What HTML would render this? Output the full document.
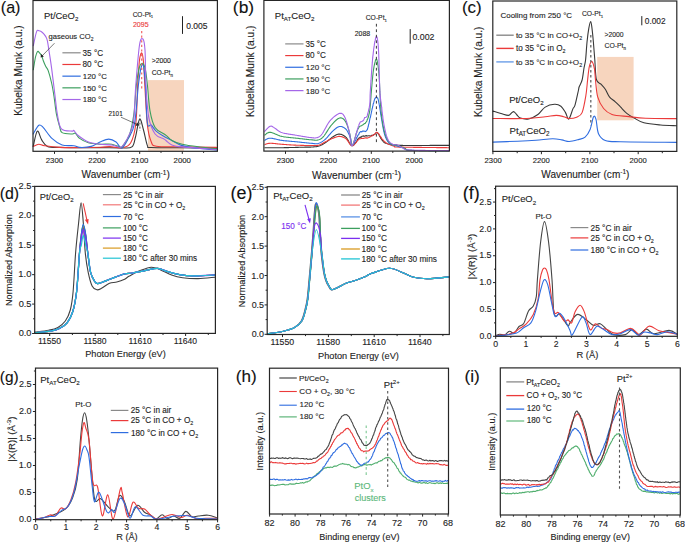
<!DOCTYPE html>
<html><head><meta charset="utf-8"><style>
html,body{margin:0;padding:0;background:#fff;}
svg{display:block;}
text{font-family:"Liberation Sans", sans-serif;}
</style></head><body>
<svg width="685" height="543" viewBox="0 0 685 543">
<rect width="685" height="543" fill="#fff"/>
<rect x="148" y="80.1" width="36" height="70.7" fill="#f7d5be" />
<path d="M33.2,146.4 C33.88,143.85 35.88,132.18 37.3,131.1 C38.72,130.02 40,137.35 41.7,139.9 C43.4,142.45 44.45,145.15 47.5,146.4 C50.55,147.65 54.58,147.2 60,147.4 C65.42,147.6 73.33,147.57 80,147.6 C86.67,147.63 93.07,147.55 100,147.6 C106.93,147.65 116.28,148.02 121.6,147.9 C126.92,147.78 129.58,148.72 131.9,146.9 C134.22,145.08 134.22,141.63 135.5,137 C136.78,132.37 138.27,120.27 139.6,119.1 C140.93,117.93 142.2,125.58 143.5,130 C144.8,134.42 146.12,142.68 147.4,145.6 C148.68,148.52 145.77,147.13 151.2,147.5 C156.63,147.87 169.12,147.68 180,147.8 C190.88,147.92 210.42,148.13 216.5,148.2" fill="none" stroke="#383838" stroke-width="1.1" stroke-linejoin="round" stroke-linecap="round" />
<path d="M33.2,146.4 C34.13,146.03 36.9,144.32 38.8,144.2 C40.7,144.08 41.2,145.17 44.6,145.7 C48,146.23 53.3,147.08 59.2,147.4 C65.1,147.72 73.2,147.63 80,147.6 C86.8,147.57 95,147.37 100,147.2 C105,147.03 106.4,146.48 110,146.6 C113.6,146.72 118.17,148.5 121.6,147.9 C125.03,147.3 128.23,147.03 130.6,143 C132.97,138.97 134.62,133.37 135.8,123.7 C136.98,114.03 137.08,95.62 137.7,85 C138.32,74.38 138.82,65.35 139.5,60 C140.18,54.65 141.13,52.57 141.8,52.9 C142.47,53.23 143,56.65 143.5,62 C144,67.35 144.15,74.5 144.8,85 C145.45,95.5 146.33,115.55 147.4,125 C148.47,134.45 149.7,138.17 151.2,141.7 C152.7,145.23 151.6,145.35 156.4,146.2 C161.2,147.05 169.98,146.6 180,146.8 C190.02,147 210.42,147.3 216.5,147.4" fill="none" stroke="#eb3a3a" stroke-width="1.1" stroke-linejoin="round" stroke-linecap="round" />
<path d="M33.2,134 C34.13,132.55 37.15,126.4 38.8,125.3 C40.45,124.2 40.92,125.22 43.1,127.4 C45.28,129.58 48.73,135.47 51.9,138.4 C55.07,141.33 58.45,143.78 62.1,145 C65.75,146.22 70.88,145.3 73.8,145.7 C76.72,146.1 76.68,147.28 79.6,147.4 C82.52,147.52 87.9,147.3 91.3,146.4 C94.7,145.5 97.08,143.22 100,142 C102.92,140.78 106.12,139.1 108.8,139.1 C111.48,139.1 113.97,140.5 116.1,142 C118.23,143.5 119.62,148.58 121.6,148.1 C123.58,147.62 125.85,143.17 128,139.1 C130.15,135.03 132.77,132.72 134.5,123.7 C136.23,114.68 137.32,94.28 138.4,85 C139.48,75.72 140.17,71.23 141,68 C141.83,64.77 142.67,62.77 143.4,65.6 C144.13,68.43 144.73,75.43 145.4,85 C146.07,94.57 146.43,116.33 147.4,123 C148.37,129.67 149.7,123.6 151.2,125 C152.7,126.4 154.25,129.48 156.4,131.4 C158.55,133.32 161.73,135.1 164.1,136.5 C166.47,137.9 167.58,138.28 170.6,139.8 C173.62,141.32 177.3,144.15 182.2,145.6 C187.1,147.05 194.28,147.77 200,148.5 C205.72,149.23 213.75,149.75 216.5,150" fill="none" stroke="#2f6de0" stroke-width="1.1" stroke-linejoin="round" stroke-linecap="round" />
<path d="M33.3,69.8 C33.67,67.67 34.8,60.05 35.5,57 C36.2,53.95 36.9,52.27 37.5,51.5 C38.1,50.73 38.42,51.7 39.1,52.4 C39.78,53.1 40.9,54.32 41.6,55.7 C42.3,57.08 42.6,58.9 43.3,60.7 C44,62.5 44.98,64.85 45.8,66.5 C46.62,68.15 47.23,67.85 48.2,70.6 C49.17,73.35 50.63,78.72 51.6,83 C52.57,87.28 53.18,91.05 54,96.3 C54.82,101.55 55.58,109.55 56.5,114.5 C57.42,119.45 58.57,122.98 59.5,126 C60.43,129.02 59.97,131.27 62.1,132.6 C64.23,133.93 70.1,133.88 72.3,134 C74.5,134.12 74.08,132.57 75.3,133.3 C76.52,134.03 77.42,136.82 79.6,138.4 C81.78,139.98 85,141.83 88.4,142.8 C91.8,143.77 96.1,143.97 100,144.2 C103.9,144.43 108.38,143.7 111.8,144.2 C115.22,144.7 118.65,146.97 120.5,147.2 C122.35,147.43 121.43,147.58 122.9,145.6 C124.37,143.62 127.48,140.47 129.3,135.3 C131.12,130.13 132.62,122.98 133.8,114.6 C134.98,106.22 135.45,92.93 136.4,85 C137.35,77.07 138.42,70.6 139.5,67 C140.58,63.4 141.9,62.9 142.9,63.4 C143.9,63.9 144.75,66.4 145.5,70 C146.25,73.6 146.65,78.2 147.4,85 C148.15,91.8 148.72,103.72 150,110.8 C151.28,117.88 152.75,123.63 155.1,127.5 C157.45,131.37 162.17,132.6 164.1,134 C166.03,135.4 165.4,134.83 166.7,135.9 C168,136.97 169.32,139 171.9,140.4 C174.48,141.8 177.52,143.2 182.2,144.3 C186.88,145.4 194.28,146.28 200,147 C205.72,147.72 213.75,148.33 216.5,148.6" fill="none" stroke="#3c9f5e" stroke-width="1.1" stroke-linejoin="round" stroke-linecap="round" />
<path d="M33.3,45.7 C33.85,43.35 35.63,34.08 36.6,31.6 C37.57,29.12 38.13,30.65 39.1,30.8 C40.07,30.95 41.28,31.53 42.4,32.5 C43.52,33.47 44.97,35.22 45.8,36.6 C46.63,37.98 46.85,38.32 47.4,40.8 C47.95,43.28 48.4,46.95 49.1,51.5 C49.8,56.05 50.63,60.9 51.6,68.1 C52.57,75.3 53.93,86.97 54.9,94.7 C55.87,102.43 56.32,108.8 57.4,114.5 C58.48,120.2 58.92,126.13 61.4,128.9 C63.88,131.67 70.23,130.85 72.3,131.1 C74.37,131.35 72.82,129.67 73.8,130.4 C74.78,131.13 75.77,133.57 78.2,135.5 C80.63,137.43 84.77,140.55 88.4,142 C92.03,143.45 96.1,143.7 100,144.2 C103.9,144.7 108.38,144.5 111.8,145 C115.22,145.5 118.22,147.75 120.5,147.2 C122.78,146.65 123.38,145.62 125.5,141.7 C127.62,137.78 131.48,133.15 133.2,123.7 C134.92,114.25 134.75,98.12 135.8,85 C136.85,71.88 138.32,52.67 139.5,45 C140.68,37.33 141.98,38.17 142.9,39 C143.82,39.83 144.48,42.33 145,50 C145.52,57.67 145.38,73.8 146,85 C146.62,96.2 147.18,109.03 148.7,117.2 C150.22,125.37 152.53,130.35 155.1,134 C157.67,137.65 162.07,137.82 164.1,139.1 C166.13,140.38 166,140.73 167.3,141.7 C168.6,142.67 169.42,144.03 171.9,144.9 C174.38,145.77 174.77,146.12 182.2,146.9 C189.63,147.68 210.78,149.15 216.5,149.6" fill="none" stroke="#a567e8" stroke-width="1.1" stroke-linejoin="round" stroke-linecap="round" />
<line x1="141.7" y1="31" x2="141.7" y2="89" stroke="#f26464" stroke-width="1.2" stroke-dasharray="2.2,2.4"/>
<line x1="139.9" y1="114.6" x2="139.9" y2="131" stroke="#444" stroke-width="0.9" stroke-dasharray="2,2"/>
<rect x="33" y="0.5" width="184.4" height="150.8" fill="none" stroke="#262626" stroke-width="1.2"/>
<line x1="54.5" y1="151.3" x2="54.5" y2="153.9" stroke="#262626" stroke-width="1" />
<line x1="97.1" y1="151.3" x2="97.1" y2="153.9" stroke="#262626" stroke-width="1" />
<line x1="139.7" y1="151.3" x2="139.7" y2="153.9" stroke="#262626" stroke-width="1" />
<line x1="182.3" y1="151.3" x2="182.3" y2="153.9" stroke="#262626" stroke-width="1" />
<line x1="75.8" y1="151.3" x2="75.8" y2="152.9" stroke="#262626" stroke-width="1" />
<line x1="118.4" y1="151.3" x2="118.4" y2="152.9" stroke="#262626" stroke-width="1" />
<line x1="161" y1="151.3" x2="161" y2="152.9" stroke="#262626" stroke-width="1" />
<line x1="203.6" y1="151.3" x2="203.6" y2="152.9" stroke="#262626" stroke-width="1" />
<text x="45.76" y="162.8" font-size="7.8" fill="#1e1e1e" stroke="#1e1e1e" stroke-width="0.12" ><tspan>2300</tspan></text>
<text x="88.36" y="162.8" font-size="7.8" fill="#1e1e1e" stroke="#1e1e1e" stroke-width="0.12" ><tspan>2200</tspan></text>
<text x="130.96" y="162.8" font-size="7.8" fill="#1e1e1e" stroke="#1e1e1e" stroke-width="0.12" ><tspan>2100</tspan></text>
<text x="173.56" y="162.8" font-size="7.8" fill="#1e1e1e" stroke="#1e1e1e" stroke-width="0.12" ><tspan>2000</tspan></text>
<text x="81.55" y="178.4" font-size="10.07" fill="#1e1e1e" stroke="#1e1e1e" stroke-width="0.12" ><tspan>Wavenumber (cm</tspan><tspan font-size="6.55" dy="-3.83">-1</tspan><tspan dy="3.83">)</tspan></text>
<text x="0" y="0" font-size="10.11" fill="#1e1e1e" stroke="#1e1e1e" stroke-width="0.12" transform="translate(22.3 115) rotate(-90)"><tspan x="-0.81"><tspan>Kubelka Munk (a.u.)</tspan></tspan></text>
<text x="0.78" y="12.5" font-size="16.14" fill="#111" stroke="#111" stroke-width="0.12" ><tspan>(a)</tspan></text>
<text x="44.05" y="18.9" font-size="9.43" fill="#1e1e1e" stroke="#1e1e1e" stroke-width="0.12" ><tspan>Pt/CeO</tspan><tspan font-size="6.13" dy="2.36">2</tspan></text>
<text x="48.5" y="39.1" font-size="7.59" fill="#1e1e1e" stroke="#1e1e1e" stroke-width="0.12" ><tspan>gaseous CO</tspan><tspan font-size="4.93" dy="1.9">2</tspan></text>
<line x1="54.5" y1="43.2" x2="41.8" y2="56.2" stroke="#222" stroke-width="0.6" />
<path d="M40.6,57.6 L41.1,53.9 L43.9,56.4 Z" fill="#222"/>
<line x1="62.4" y1="52.8" x2="80.7" y2="52.8" stroke="#8a8a8a" stroke-width="1.2" />
<line x1="62.4" y1="64.48" x2="80.7" y2="64.48" stroke="#eb3a3a" stroke-width="1.2" />
<line x1="62.4" y1="76.16" x2="80.7" y2="76.16" stroke="#2f6de0" stroke-width="1.2" />
<line x1="62.4" y1="87.84" x2="80.7" y2="87.84" stroke="#3c9f5e" stroke-width="1.2" />
<line x1="62.4" y1="99.52" x2="80.7" y2="99.52" stroke="#a567e8" stroke-width="1.2" />
<text x="82.57" y="55.6" font-size="8.17" fill="#1e1e1e" stroke="#1e1e1e" stroke-width="0.12" ><tspan>35 °C</tspan></text>
<text x="82.53" y="67.28" font-size="8.19" fill="#1e1e1e" stroke="#1e1e1e" stroke-width="0.12" ><tspan>80 °C</tspan></text>
<text x="82.81" y="78.96" font-size="7.85" fill="#1e1e1e" stroke="#1e1e1e" stroke-width="0.12" ><tspan>120 °C</tspan></text>
<text x="82.81" y="90.64" font-size="7.85" fill="#1e1e1e" stroke="#1e1e1e" stroke-width="0.12" ><tspan>150 °C</tspan></text>
<text x="82.81" y="102.32" font-size="7.85" fill="#1e1e1e" stroke="#1e1e1e" stroke-width="0.12" ><tspan>180 °C</tspan></text>
<text x="132.67" y="16.5" font-size="6.54" fill="#1e1e1e" stroke="#1e1e1e" stroke-width="0.12" ><tspan>CO-Pt</tspan><tspan font-size="4.25" dy="1.63">1</tspan></text>
<text x="132.95" y="27" font-size="7.07" fill="#eb3a3a" stroke="#eb3a3a" stroke-width="0.12" ><tspan>2095</tspan></text>
<line x1="182.5" y1="16.2" x2="182.5" y2="33.9" stroke="#222" stroke-width="1" />
<text x="186.16" y="28.6" font-size="8.51" fill="#1e1e1e" stroke="#1e1e1e" stroke-width="0.12" ><tspan>0.005</tspan></text>
<text x="151.66" y="63.3" font-size="6.86" fill="#1e1e1e" stroke="#1e1e1e" stroke-width="0.12" ><tspan>&gt;2000</tspan></text>
<text x="151.66" y="74.9" font-size="6.79" fill="#1e1e1e" stroke="#1e1e1e" stroke-width="0.12" ><tspan>CO-Pt</tspan><tspan font-size="4.41" dy="1.7">n</tspan></text>
<text x="108.58" y="116.2" font-size="6.34" fill="#1e1e1e" stroke="#1e1e1e" stroke-width="0.12" ><tspan>2101</tspan></text>
<line x1="121" y1="117.2" x2="137.3" y2="124.5" stroke="#222" stroke-width="0.6" />
<path d="M139.6,125.6 L135.8,125.7 L137.1,122.5 Z" fill="#222"/>
<path d="M264.5,147.7 L264.95,147.7 L265.46,147.7 L266.03,147.7 L266.66,147.71 L267.34,147.71 L268.07,147.71 L268.84,147.72 L269.66,147.72 L270.5,147.73 L271.38,147.73 L272.29,147.73 L273.21,147.73 L274.16,147.74 L275.12,147.74 L276.09,147.74 L277.07,147.73 L278.05,147.73 L279.03,147.73 L280,147.72 L280.96,147.71 L281.9,147.7 L282.64,147.69 L283.41,147.68 L284.21,147.66 L285.03,147.65 L285.87,147.63 L286.73,147.62 L287.6,147.6 L288.48,147.58 L289.37,147.56 L290.27,147.54 L291.17,147.52 L292.08,147.5 L292.98,147.47 L293.87,147.45 L294.76,147.43 L295.64,147.41 L296.5,147.38 L297.35,147.36 L298.18,147.34 L298.98,147.32 L299.77,147.3 L300.52,147.28 L301.25,147.26 L301.94,147.25 L302.6,147.23 L303.22,147.21 L303.8,147.2 L305.18,147.17 L306.34,147.15 L307.3,147.14 L308.12,147.14 L308.83,147.13 L309.46,147.12 L310.06,147.11 L310.66,147.09 L311.29,147.05 L312,147 L312.93,146.93 L313.83,146.87 L314.71,146.8 L315.57,146.72 L316.43,146.61 L317.28,146.46 L318.13,146.26 L319,146 L319.78,145.72 L320.56,145.4 L321.33,145.04 L322.11,144.64 L322.89,144.22 L323.67,143.77 L324.44,143.3 L325.22,142.81 L326,142.3 L326.64,141.85 L327.28,141.36 L327.92,140.83 L328.56,140.28 L329.2,139.71 L329.85,139.15 L330.48,138.6 L331.12,138.06 L331.75,137.56 L332.38,137.1 L333,136.7 L333.84,136.19 L334.68,135.7 L335.51,135.25 L336.33,134.84 L337.15,134.51 L337.97,134.26 L338.78,134.12 L339.6,134.1 L340.33,134.18 L341.06,134.34 L341.79,134.58 L342.52,134.89 L343.24,135.27 L343.97,135.72 L344.68,136.22 L345.4,136.79 L346.1,137.4 L346.62,137.96 L347.13,138.67 L347.63,139.48 L348.13,140.36 L348.62,141.27 L349.11,142.19 L349.61,143.06 L350.11,143.86 L350.61,144.55 L351.13,145.1 L351.66,145.46 L352.2,145.6 L352.72,145.51 L353.24,145.23 L353.78,144.79 L354.33,144.29 L354.89,143.26 L355.44,143.2 L356.01,142.37 L356.57,141.14 L357.13,140.52 L357.68,139.36 L358.23,138.68 L358.77,138.16 L359.3,138.07 L360.15,137.1 L361,137.38 L361.84,136.26 L362.68,136.14 L363.49,135.88 L364.29,136.37 L365.06,135.9 L365.8,135.87 L366.74,135.65 L367.65,135.95 L368.51,135.81 L369.34,135.7 L370.14,135.92 L370.9,135.72 L371.78,135.28 L372.61,135.54 L373.39,134.97 L374.12,134.52 L374.8,134.34 L375.71,133.14 L376.49,132.43 L377.4,132.63 L377.78,133 L378.18,133.8 L378.61,133.91 L379.05,135.12 L379.5,136.04 L379.96,136.73 L380.42,137.27 L380.86,138.64 L381.3,138.66 L381.91,139.98 L382.47,140.36 L383.04,141.35 L383.64,141.96 L384.31,142.51 L385.1,143 L385.79,143.32 L386.57,143.59 L387.41,143.83 L388.28,144.03 L389.15,144.2 L390.02,144.35 L390.84,144.48 L391.6,144.6 L392.56,144.72 L393.5,144.79 L394.41,144.82 L395.24,144.83 L395.98,144.85 L396.6,144.9 L394.54,145.17 L398.2,145.4 L398.63,145.4 L399.11,145.41 L399.61,145.41 L400.15,145.41 L400.72,145.42 L401.33,145.42 L401.96,145.42 L402.63,145.42 L403.32,145.43 L404.04,145.43 L404.78,145.43 L405.55,145.43 L406.34,145.43 L407.16,145.43 L407.99,145.43 L408.85,145.44 L409.72,145.44 L410.61,145.44 L411.52,145.44 L412.44,145.44 L413.37,145.44 L414.32,145.44 L415.28,145.44 L416.24,145.44 L417.22,145.44 L418.2,145.44 L419.19,145.43 L420.19,145.43 L421.19,145.43 L422.19,145.43 L423.2,145.43 L424.2,145.43 L425.21,145.43 L426.21,145.43 L427.21,145.43 L428.2,145.43 L429.19,145.43 L430.17,145.42 L431.15,145.42 L432.11,145.42 L433.06,145.42 L434.01,145.42 L434.94,145.42 L435.85,145.42 L436.75,145.41 L437.64,145.41 L438.5,145.41 L439.35,145.41 L440.18,145.41 L440.99,145.41 L441.77,145.41 L442.53,145.41 L443.27,145.41 L443.98,145.4 L444.66,145.4 L445.32,145.4 L445.94,145.4 L446.53,145.4 L447.1,145.4 L447.62,145.4 L448.12,145.4 L448.58,145.4 L449,145.4" fill="none" stroke="#383838" stroke-width="1.1" stroke-linejoin="round" />
<path d="M264.5,144.7 L264.96,144.55 L265.54,144.33 L266.23,144.07 L267.04,143.81 L267.97,143.57 L269.02,143.39 L270.2,143.3 L270.84,143.3 L271.53,143.32 L272.26,143.36 L273.02,143.41 L273.82,143.48 L274.64,143.57 L275.49,143.66 L276.37,143.75 L277.26,143.85 L278.17,143.95 L279.09,144.05 L280.02,144.14 L280.96,144.23 L281.9,144.3 L282.64,144.35 L283.39,144.41 L284.16,144.46 L284.93,144.52 L285.72,144.57 L286.52,144.63 L287.33,144.68 L288.14,144.74 L288.96,144.79 L289.79,144.85 L290.62,144.9 L291.46,144.95 L292.3,145 L293.14,145.04 L293.98,145.09 L294.82,145.13 L295.66,145.17 L296.5,145.2 L297.31,145.23 L298.14,145.26 L298.99,145.29 L299.85,145.32 L300.73,145.34 L301.62,145.37 L302.51,145.39 L303.4,145.41 L304.28,145.43 L305.16,145.45 L306.03,145.46 L306.88,145.47 L307.7,145.48 L308.51,145.49 L309.28,145.5 L310.02,145.5 L310.72,145.51 L311.38,145.5 L312,145.5 L313.28,145.5 L314.35,145.5 L315.25,145.5 L316.03,145.49 L316.75,145.44 L317.45,145.35 L318.18,145.21 L319,145 L319.78,144.74 L320.56,144.42 L321.33,144.05 L322.11,143.64 L322.89,143.21 L323.67,142.76 L324.44,142.32 L325.22,141.9 L326,141.5 L326.78,141.12 L327.56,140.72 L328.35,140.33 L329.13,139.94 L329.92,139.55 L330.7,139.18 L331.47,138.83 L332.24,138.5 L333,138.2 L333.84,137.87 L334.68,137.54 L335.51,137.23 L336.33,136.94 L337.15,136.69 L337.97,136.51 L338.78,136.41 L339.6,136.4 L340.42,136.48 L341.24,136.62 L342.06,136.83 L342.88,137.11 L343.7,137.45 L344.51,137.86 L345.31,138.35 L346.1,138.9 L346.67,139.41 L347.22,140.07 L347.77,140.83 L348.31,141.66 L348.84,142.51 L349.38,143.34 L349.93,144.11 L350.48,144.78 L351.04,145.31 L351.61,145.67 L352.2,145.8 L352.75,145.7 L353.32,145.41 L353.89,144.95 L354.47,144.05 L355.06,143.8 L355.65,142.66 L356.25,142.38 L356.85,141.53 L357.46,140.6 L358.07,140.16 L358.68,139.57 L359.3,138.69 L360.14,138.76 L361.02,138.59 L361.91,138.34 L362.82,138.57 L363.72,138.4 L364.6,138.04 L365.45,137.87 L366.25,137.7 L367,138.18 L368.01,137.8 L368.92,137.44 L369.76,136.97 L370.56,136.69 L371.36,136.06 L372.2,135.93 L372.95,135.11 L373.72,134.94 L374.5,134.29 L375.26,133.7 L376.01,132.81 L376.73,132.36 L377.4,132.55 L377.94,133.12 L378.44,133.42 L378.9,134.26 L379.36,134.72 L379.81,135.5 L380.27,136.78 L380.76,136.9 L381.3,137.64 L381.8,138.56 L382.3,139.19 L382.81,139.62 L383.34,140.28 L383.89,140.87 L384.46,141.44 L385.07,142 L385.71,142.52 L386.4,143 L387.07,143.41 L387.8,143.8 L388.58,144.17 L389.38,144.53 L390.2,144.86 L391.02,145.18 L391.84,145.47 L392.63,145.74 L393.39,145.98 L394.1,146.2 L394.66,146.45 L394.66,146.63 L394.49,146.76 L394.55,146.86 L395.23,146.93 L396.91,147.01 L400,147.1 L400.47,147.11 L400.97,147.12 L401.51,147.14 L402.08,147.15 L402.68,147.16 L403.31,147.17 L403.97,147.19 L404.66,147.2 L405.37,147.21 L406.11,147.22 L406.88,147.23 L407.67,147.25 L408.47,147.26 L409.3,147.27 L410.15,147.28 L411.02,147.29 L411.9,147.31 L412.8,147.32 L413.72,147.33 L414.64,147.34 L415.58,147.35 L416.53,147.36 L417.49,147.37 L418.46,147.39 L419.43,147.4 L420.42,147.41 L421.4,147.42 L422.39,147.43 L423.38,147.44 L424.37,147.45 L425.36,147.46 L426.36,147.47 L427.34,147.48 L428.33,147.49 L429.31,147.5 L430.28,147.51 L431.24,147.52 L432.2,147.53 L433.15,147.54 L434.08,147.55 L435.01,147.56 L435.92,147.57 L436.81,147.58 L437.69,147.58 L438.55,147.59 L439.39,147.6 L440.22,147.61 L441.02,147.62 L441.8,147.62 L442.56,147.63 L443.29,147.64 L444,147.65 L444.68,147.65 L445.33,147.66 L445.95,147.67 L446.54,147.67 L447.1,147.68 L447.63,147.68 L448.12,147.69 L448.58,147.69 L449,147.7" fill="none" stroke="#eb3a3a" stroke-width="1.1" stroke-linejoin="round" />
<path d="M264.5,140.4 L264.96,140.16 L265.54,139.8 L266.23,139.38 L267.04,138.95 L267.97,138.57 L269.02,138.3 L270.2,138.2 L270.84,138.22 L271.53,138.29 L272.26,138.39 L273.02,138.53 L273.82,138.69 L274.64,138.88 L275.49,139.07 L276.37,139.28 L277.26,139.49 L278.17,139.7 L279.09,139.9 L280.02,140.09 L280.96,140.26 L281.9,140.4 L282.64,140.5 L283.4,140.59 L284.17,140.68 L284.95,140.76 L285.75,140.84 L286.56,140.92 L287.37,141 L288.2,141.07 L289.02,141.14 L289.86,141.21 L290.7,141.29 L291.53,141.36 L292.37,141.43 L293.21,141.5 L294.04,141.57 L294.87,141.64 L295.69,141.72 L296.5,141.8 L297.32,141.88 L298.16,141.97 L299.01,142.06 L299.87,142.15 L300.74,142.25 L301.62,142.34 L302.49,142.44 L303.36,142.53 L304.23,142.62 L305.08,142.72 L305.91,142.81 L306.73,142.89 L307.52,142.97 L308.28,143.05 L309.02,143.12 L309.72,143.19 L310.38,143.25 L311,143.3 L312.23,143.42 L313.28,143.54 L314.17,143.65 L314.97,143.74 L315.7,143.79 L316.43,143.78 L317.18,143.68 L318,143.5 L318.7,143.29 L319.38,143.04 L320.07,142.75 L320.75,142.42 L321.44,142.05 L322.13,141.63 L322.83,141.17 L323.54,140.66 L324.26,140.11 L325,139.5 L325.54,139.02 L326.1,138.48 L326.67,137.89 L327.25,137.26 L327.84,136.6 L328.43,135.92 L329.03,135.23 L329.62,134.53 L330.21,133.85 L330.79,133.19 L331.36,132.55 L331.92,131.95 L332.47,131.4 L333,130.9 L333.8,130.19 L334.56,129.5 L335.31,128.85 L336.03,128.26 L336.75,127.72 L337.46,127.27 L338.17,126.91 L338.88,126.65 L339.6,126.5 L340.43,126.47 L341.28,126.57 L342.14,126.79 L342.99,127.12 L343.82,127.56 L344.63,128.09 L345.39,128.71 L346.1,129.4 L346.55,129.93 L346.99,130.54 L347.41,131.22 L347.82,131.95 L348.22,132.72 L348.6,133.52 L348.96,134.33 L349.31,135.15 L349.64,135.96 L349.95,136.75 L350.23,137.5 L350.5,138.2 L350.78,139.19 L350.96,140.32 L351.07,141.5 L351.14,142.67 L351.22,143.74 L351.33,144.64 L351.51,145.31 L351.79,145.65 L352.2,145.6 L352.48,145.37 L352.81,144.99 L353.17,144.47 L353.57,143.84 L353.99,143.11 L354.44,142.73 L354.9,141.38 L355.37,140.7 L355.85,139.77 L356.34,138.35 L356.81,137.29 L357.28,136.85 L357.74,135.56 L358.17,134.99 L358.58,134.74 L358.96,134.12 L359.3,132.96 L360.29,131.87 L361.1,131.51 L361.8,131.91 L362.48,131.15 L363.2,131.15 L363.96,130.98 L364.72,131.18 L365.48,131.63 L366.24,130.97 L367,130.02 L367.2,129.83 L367.41,129.26 L367.62,128.36 L367.82,128 L368.03,127.07 L368.24,126.5 L368.46,125.15 L368.67,124.39 L368.88,123.68 L369.09,123.09 L369.3,121.86 L369.5,120.79 L369.71,119.65 L369.91,118.74 L370.12,117.76 L370.32,117.56 L370.51,116.59 L370.71,115.76 L370.9,114.63 L371.1,113.95 L371.3,112.73 L371.49,112.03 L371.69,110.85 L371.88,110.21 L372.07,109.17 L372.26,108.16 L372.45,108.02 L372.64,106.42 L372.82,106.23 L373,105.31 L373.18,103.98 L373.36,103.58 L373.53,103.33 L373.7,102.65 L373.87,101.64 L374.04,101.26 L374.2,100.69 L374.76,98.83 L375.28,98.07 L375.77,97.52 L376.24,97.09 L376.7,97.49 L377.06,97.33 L377.38,97.97 L377.69,97.94 L378.01,99.12 L378.34,99.91 L378.7,101.93 L378.82,102.69 L378.95,103 L379.07,103.67 L379.2,104.42 L379.33,104.8 L379.46,105.71 L379.59,106.69 L379.72,107.58 L379.86,108.2 L379.99,109.16 L380.13,109.91 L380.27,111.01 L380.41,112.02 L380.56,112.62 L380.7,113.84 L380.85,114.89 L381,115.5 L381.15,116.77 L381.3,117.03 L381.44,118.36 L381.58,118.49 L381.71,119.47 L381.85,120.71 L381.99,120.85 L382.13,122.23 L382.27,123.32 L382.42,124.25 L382.56,124.88 L382.71,125.43 L382.86,126.28 L383.01,127.27 L383.16,128.11 L383.31,128.93 L383.47,129.73 L383.64,130.51 L383.8,131.27 L383.97,132 L384.14,132.7 L384.32,133.37 L384.5,134 L384.82,135.04 L385.15,136.03 L385.49,136.95 L385.83,137.81 L386.19,138.63 L386.55,139.39 L386.92,140.1 L387.31,140.76 L387.71,141.38 L388.12,141.96 L388.55,142.5 L389,143 L389.69,143.63 L390.4,144.1 L391.14,144.44 L391.91,144.7 L392.72,144.91 L393.57,145.1 L394.46,145.32 L395.4,145.6 L396.14,145.84 L396.93,146.08 L397.76,146.32 L398.62,146.57 L399.5,146.81 L400.39,147.05 L401.27,147.29 L402.13,147.53 L402.97,147.76 L403.76,147.98 L404.5,148.2 L405.22,148.5 L405.57,148.8 L405.74,149.1 L405.94,149.39 L406.37,149.67 L407.22,149.91 L408.7,150.13 L411,150.3 L411.5,150.32 L412.04,150.35 L412.62,150.37 L413.24,150.39 L413.9,150.41 L414.59,150.43 L415.32,150.44 L416.08,150.46 L416.87,150.47 L417.69,150.49 L418.53,150.5 L419.39,150.51 L420.28,150.52 L421.19,150.53 L422.12,150.54 L423.06,150.55 L424.01,150.55 L424.98,150.56 L425.95,150.57 L426.93,150.57 L427.92,150.57 L428.92,150.58 L429.91,150.58 L430.9,150.58 L431.89,150.58 L432.88,150.59 L433.86,150.59 L434.83,150.59 L435.79,150.59 L436.74,150.59 L437.67,150.59 L438.59,150.59 L439.49,150.59 L440.37,150.59 L441.22,150.59 L442.05,150.59 L442.86,150.59 L443.63,150.59 L444.38,150.59 L445.09,150.59 L445.77,150.59 L446.41,150.59 L447.02,150.59 L447.58,150.59 L448.1,150.59 L448.57,150.6 L449,150.6" fill="none" stroke="#2f6de0" stroke-width="1.1" stroke-linejoin="round" />
<path d="M264.5,135.3 L264.9,135.02 L265.38,134.59 L265.96,134.08 L266.62,133.54 L267.37,133.04 L268.22,132.62 L269.16,132.36 L270.2,132.3 L270.8,132.37 L271.44,132.51 L272.11,132.7 L272.81,132.94 L273.55,133.23 L274.31,133.54 L275.09,133.88 L275.9,134.23 L276.72,134.58 L277.56,134.94 L278.42,135.29 L279.28,135.61 L280.15,135.91 L281.02,136.18 L281.9,136.4 L282.64,136.56 L283.4,136.7 L284.17,136.84 L284.95,136.96 L285.75,137.07 L286.56,137.18 L287.37,137.28 L288.2,137.37 L289.02,137.46 L289.86,137.54 L290.7,137.62 L291.53,137.7 L292.37,137.78 L293.21,137.86 L294.04,137.94 L294.87,138.02 L295.69,138.11 L296.5,138.2 L297.32,138.3 L298.16,138.39 L299.01,138.49 L299.87,138.6 L300.74,138.7 L301.62,138.8 L302.49,138.9 L303.36,139 L304.23,139.1 L305.08,139.2 L305.91,139.29 L306.73,139.38 L307.52,139.46 L308.28,139.54 L309.02,139.62 L309.72,139.68 L310.38,139.75 L311,139.8 L312.24,139.92 L313.31,140.04 L314.24,140.14 L315.06,140.22 L315.81,140.26 L316.53,140.24 L317.25,140.16 L318,140 L318.74,139.79 L319.42,139.57 L320.06,139.31 L320.69,138.98 L321.32,138.56 L321.98,138.02 L322.7,137.35 L323.5,136.5 L323.91,136.02 L324.33,135.49 L324.76,134.89 L325.21,134.25 L325.67,133.57 L326.13,132.85 L326.61,132.11 L327.09,131.35 L327.58,130.58 L328.07,129.81 L328.57,129.05 L329.06,128.3 L329.56,127.57 L330.05,126.86 L330.54,126.2 L331.02,125.57 L331.5,125 L332.13,124.29 L332.76,123.57 L333.41,122.86 L334.06,122.17 L334.71,121.51 L335.36,120.87 L336.01,120.28 L336.65,119.73 L337.27,119.24 L337.89,118.81 L338.48,118.46 L339.05,118.19 L339.6,118 L340.44,117.87 L341.24,117.91 L342,118.12 L342.73,118.49 L343.43,119.01 L344.1,119.67 L344.76,120.47 L345.4,121.4 L345.72,121.93 L346.03,122.52 L346.34,123.18 L346.65,123.88 L346.95,124.63 L347.24,125.42 L347.53,126.24 L347.81,127.08 L348.09,127.94 L348.36,128.81 L348.62,129.67 L348.87,130.54 L349.12,131.39 L349.36,132.22 L349.58,133.03 L349.8,133.8 L350.02,134.72 L350.22,135.76 L350.39,136.87 L350.53,138.02 L350.67,139.19 L350.79,140.35 L350.91,141.47 L351.04,142.51 L351.17,143.45 L351.32,144.25 L351.5,144.88 L351.7,145.33 L351.93,145.54 L352.2,145.5 L352.39,145.32 L352.6,145 L352.83,144.56 L353.06,144.02 L353.31,143.37 L353.57,142.64 L353.84,141.84 L354.11,141.39 L354.39,140.39 L354.67,139.31 L354.96,137.87 L355.25,136.97 L355.54,136.31 L355.84,135.39 L356.13,133.7 L356.41,132.89 L356.7,132.64 L356.97,131.09 L357.24,130.79 L357.51,129.79 L357.76,129.45 L358,129.13 L358.73,127.65 L359.43,126.66 L360.1,126.08 L360.75,126.03 L361.38,125.79 L362,125.32 L362.6,124.97 L363.29,124.54 L363.94,123.93 L364.58,123.51 L365.2,123.41 L365.8,122.32 L366.4,121.79 L366.65,121.45 L366.91,120.93 L367.17,119.83 L367.42,119.36 L367.68,119.17 L367.93,117.96 L368.17,117.8 L368.42,116.31 L368.65,116.06 L368.88,114.47 L369.1,114.1 L369.31,113.23 L369.51,111.95 L369.7,110.92 L369.8,110.54 L369.89,109.95 L369.97,108.53 L370.06,108.12 L370.14,106.95 L370.21,106.49 L370.29,105.5 L370.36,104.71 L370.43,104.31 L370.49,102.99 L370.56,102.21 L370.62,101.22 L370.68,101.08 L370.74,99.7 L370.8,98.67 L370.86,98.29 L370.92,97.5 L370.98,96.54 L371.04,95.59 L371.1,94.71 L371.16,94.02 L371.23,92.8 L371.29,92.44 L371.36,91.48 L371.43,90.82 L371.5,90.05 L371.58,89.15 L371.66,88 L371.73,87.13 L371.81,86.44 L371.89,85.42 L371.96,84.04 L372.04,83.96 L372.11,82.43 L372.19,81.8 L372.27,80.89 L372.35,79.7 L372.43,79.27 L372.5,78.43 L372.59,77.78 L372.67,76.77 L372.75,75.67 L372.84,75.1 L372.93,74.67 L373.01,73.62 L373.11,73.06 L373.2,71.58 L373.3,71.49 L373.4,70.39 L373.5,69.7 L373.7,68.66 L373.91,67.3 L374.13,66 L374.37,64.92 L374.6,63.78 L374.85,62.72 L375.09,62.22 L375.34,60.71 L375.58,60.08 L375.82,59.38 L376.06,59.41 L376.28,58.99 L376.5,59.33 L376.64,59.25 L376.79,59.49 L376.93,60.13 L377.07,60.23 L377.22,61.51 L377.36,61.85 L377.5,62.41 L377.63,63.33 L377.77,64.53 L377.9,65.02 L378.04,65.89 L378.17,66.73 L378.29,67.93 L378.42,69.38 L378.54,70.36 L378.66,71.21 L378.78,72.95 L378.89,73.46 L379,74.87 L379.05,75.87 L379.1,76.65 L379.15,76.91 L379.2,77.2 L379.25,78.42 L379.29,79.04 L379.34,79.44 L379.38,80.5 L379.42,81.78 L379.46,81.82 L379.5,82.77 L379.54,83.6 L379.58,85.01 L379.61,85.43 L379.65,86.63 L379.69,87.5 L379.72,87.78 L379.76,89.05 L379.79,89.64 L379.83,91.14 L379.87,91.75 L379.9,92.53 L379.94,93.82 L379.98,94.71 L380.01,94.9 L380.05,95.8 L380.09,96.86 L380.13,97.71 L380.17,98.66 L380.21,99.48 L380.26,100.79 L380.3,101.32 L380.35,102.37 L380.39,102.83 L380.44,103.23 L380.49,104.26 L380.55,104.61 L380.6,105.68 L380.68,106.26 L380.76,107.93 L380.85,108.3 L380.93,109.76 L381.02,110.07 L381.11,110.95 L381.19,111.87 L381.28,113.25 L381.38,114.1 L381.47,114.86 L381.56,115.53 L381.66,115.95 L381.76,116.83 L381.86,117.42 L381.96,119 L382.06,119.03 L382.16,120.3 L382.27,120.39 L382.38,121.36 L382.49,122.36 L382.6,122.68 L382.72,123.26 L382.84,124.68 L382.95,124.8 L383.08,125.65 L383.2,126.3 L383.41,127.33 L383.62,128.33 L383.84,129.3 L384.07,130.23 L384.3,131.14 L384.54,132.01 L384.78,132.86 L385.03,133.67 L385.28,134.45 L385.54,135.2 L385.79,135.93 L386.05,136.62 L386.31,137.28 L386.57,137.92 L386.84,138.52 L387.1,139.1 L387.62,140.14 L388.14,141.03 L388.66,141.78 L389.19,142.42 L389.75,142.97 L390.33,143.45 L390.94,143.89 L391.6,144.3 L392.3,144.64 L393.05,144.86 L393.83,145 L394.64,145.09 L395.47,145.17 L396.31,145.25 L397.16,145.39 L398,145.6 L398.76,145.86 L399.53,146.16 L400.33,146.49 L401.12,146.83 L401.92,147.19 L402.72,147.55 L403.5,147.89 L404.26,148.21 L405,148.5 L405.63,148.84 L405.85,149.17 L405.96,149.47 L406.24,149.76 L406.98,150.01 L408.47,150.23 L411,150.4 L411.49,150.42 L412.03,150.44 L412.6,150.46 L413.22,150.48 L413.88,150.49 L414.57,150.51 L415.29,150.52 L416.05,150.54 L416.84,150.55 L417.65,150.56 L418.49,150.57 L419.36,150.58 L420.25,150.58 L421.15,150.59 L422.08,150.6 L423.02,150.6 L423.97,150.61 L424.94,150.61 L425.92,150.61 L426.9,150.61 L427.89,150.62 L428.88,150.62 L429.88,150.62 L430.87,150.62 L431.86,150.62 L432.85,150.62 L433.83,150.62 L434.81,150.62 L435.77,150.61 L436.72,150.61 L437.65,150.61 L438.57,150.61 L439.47,150.61 L440.35,150.61 L441.21,150.6 L442.04,150.6 L442.85,150.6 L443.63,150.6 L444.37,150.6 L445.09,150.6 L445.77,150.6 L446.41,150.6 L447.01,150.6 L447.58,150.6 L448.1,150.6 L448.57,150.6 L449,150.6" fill="none" stroke="#3c9f5e" stroke-width="1.1" stroke-linejoin="round" />
<path d="M264.5,131.6 L264.89,131.2 L265.41,130.62 L266.03,129.93 L266.71,129.18 L267.44,128.4 L268.19,127.67 L268.91,127.02 L269.59,126.51 L270.2,126.2 L271.12,126.05 L271.91,126.27 L272.69,126.73 L273.56,127.35 L274.6,128 L275.18,128.36 L275.76,128.77 L276.35,129.23 L276.96,129.73 L277.61,130.24 L278.32,130.76 L279.08,131.27 L279.93,131.76 L280.86,132.2 L281.9,132.6 L282.53,132.8 L283.21,132.99 L283.92,133.17 L284.67,133.34 L285.46,133.5 L286.27,133.66 L287.1,133.81 L287.95,133.96 L288.81,134.1 L289.69,134.24 L290.56,134.37 L291.44,134.51 L292.32,134.64 L293.19,134.77 L294.05,134.9 L294.89,135.03 L295.71,135.17 L296.5,135.3 L297.33,135.45 L298.18,135.59 L299.03,135.75 L299.89,135.9 L300.75,136.05 L301.61,136.2 L302.46,136.35 L303.31,136.49 L304.14,136.63 L304.96,136.77 L305.76,136.9 L306.54,137.02 L307.29,137.14 L308.02,137.24 L308.72,137.34 L309.38,137.43 L310,137.5 L311.2,137.64 L312.25,137.76 L313.19,137.85 L314.03,137.91 L314.81,137.93 L315.54,137.88 L316.27,137.78 L317,137.6 L317.79,137.36 L318.48,137.12 L319.12,136.83 L319.75,136.42 L320.4,135.84 L321.14,135.06 L322,134 L322.35,133.52 L322.72,132.98 L323.09,132.38 L323.48,131.73 L323.87,131.04 L324.28,130.31 L324.7,129.56 L325.12,128.78 L325.55,127.98 L325.99,127.18 L326.43,126.37 L326.88,125.57 L327.33,124.79 L327.79,124.02 L328.25,123.28 L328.71,122.57 L329.17,121.9 L329.64,121.27 L330.1,120.7 L330.75,119.97 L331.42,119.25 L332.12,118.54 L332.84,117.86 L333.57,117.2 L334.3,116.58 L335.04,115.99 L335.76,115.45 L336.47,114.96 L337.17,114.52 L337.83,114.14 L338.46,113.82 L339.05,113.57 L339.6,113.4 L340.57,113.25 L341.4,113.33 L342.13,113.64 L342.79,114.16 L343.42,114.9 L344.05,115.85 L344.7,117 L344.96,117.52 L345.23,118.09 L345.49,118.71 L345.75,119.38 L346.01,120.1 L346.27,120.84 L346.52,121.63 L346.77,122.43 L347.02,123.26 L347.27,124.11 L347.52,124.97 L347.76,125.83 L347.99,126.7 L348.22,127.57 L348.45,128.42 L348.67,129.27 L348.89,130.1 L349.1,130.9 L349.3,131.75 L349.48,132.69 L349.65,133.71 L349.8,134.8 L349.94,135.92 L350.08,137.06 L350.22,138.21 L350.35,139.34 L350.48,140.43 L350.62,141.47 L350.76,142.43 L350.92,143.3 L351.09,144.06 L351.27,144.69 L351.47,145.17 L351.69,145.47 L351.93,145.59 L352.2,145.5 L352.39,145.31 L352.59,145.02 L352.81,144.62 L353.04,144.13 L353.28,143.55 L353.53,142.89 L353.78,142.16 L354.05,141.71 L354.32,140.38 L354.6,139.87 L354.88,139.08 L355.16,137.53 L355.45,136.94 L355.74,135.53 L356.03,134.34 L356.31,133.47 L356.6,132.81 L356.88,131.24 L357.16,130.71 L357.43,129.46 L357.7,128.36 L357.96,127.7 L358.21,126.81 L358.45,126.09 L358.68,125.75 L358.9,125.13 L359.11,123.94 L359.3,124.14 L360.22,122.07 L360.93,121.75 L361.52,121.6 L362.05,121.42 L362.6,120.88 L363.16,120.75 L363.69,119.95 L364.18,118.74 L364.65,117.48 L365.1,117.49 L366.04,117.33 L367,116.34 L367.16,115.96 L367.34,115.42 L367.52,114.59 L367.71,113.61 L367.91,113.01 L368.12,112.22 L368.32,111.64 L368.53,110.68 L368.73,109.99 L368.92,108.82 L369.1,107.98 L369.28,107.41 L369.43,106.35 L369.58,105.57 L369.7,104.48 L369.79,103.25 L369.86,102.84 L369.91,102.08 L369.95,101.42 L369.99,100.68 L370.01,100.04 L370.03,99.74 L370.04,99.37 L370.06,98.77 L370.07,98.15 L370.08,97.05 L370.1,95.73 L370.12,95.01 L370.16,93.95 L370.2,93.66 L370.25,92.06 L370.32,91.21 L370.4,89.66 L370.44,89.19 L370.48,88.81 L370.52,87.99 L370.57,86.79 L370.61,86.6 L370.66,85.63 L370.71,85.45 L370.76,84.04 L370.81,83.24 L370.86,83.05 L370.91,81.77 L370.97,80.64 L371.02,80.44 L371.08,79.69 L371.14,78.43 L371.2,77.25 L371.26,76.99 L371.32,75.62 L371.38,74.63 L371.44,73.54 L371.51,73.39 L371.57,71.89 L371.63,70.88 L371.7,70.18 L371.77,69.58 L371.83,68.94 L371.9,67.33 L371.97,66.8 L372.03,65.6 L372.1,65.26 L372.17,64.05 L372.24,63.38 L372.31,62.67 L372.38,61.58 L372.45,60.71 L372.52,59.5 L372.59,58.87 L372.65,58.59 L372.72,57.92 L372.79,57.04 L372.86,55.88 L372.93,55.85 L373,55.31 L373.13,54.17 L373.27,52.92 L373.4,51.71 L373.55,50.3 L373.69,49.2 L373.84,47.96 L373.99,47.3 L374.14,45.99 L374.29,45.41 L374.44,43.93 L374.6,43.03 L374.75,41.98 L374.9,41.32 L375.06,40.99 L375.21,40.3 L375.35,39.71 L375.5,38.31 L375.64,38.35 L375.78,37.77 L375.92,37.18 L376.05,37.39 L376.18,36.92 L376.3,36.43 L376.47,36.81 L376.63,36.52 L376.79,36.74 L376.95,37.08 L377.1,37.53 L377.25,37.71 L377.39,39.13 L377.52,39.49 L377.66,40.56 L377.79,41.36 L377.92,42.86 L378.04,43.67 L378.16,44.98 L378.28,46.59 L378.39,48.72 L378.5,50.16 L378.54,50.76 L378.57,50.78 L378.6,51.72 L378.64,52.62 L378.67,53.31 L378.7,53.74 L378.73,54.13 L378.76,55.15 L378.79,56.43 L378.82,57.17 L378.85,57.73 L378.88,58.32 L378.9,59.39 L378.93,60.23 L378.96,61 L378.98,62.23 L379.01,62.87 L379.04,63.36 L379.06,64.85 L379.09,65.74 L379.11,66.13 L379.13,67.45 L379.16,68.79 L379.18,69.44 L379.21,70.4 L379.23,71.17 L379.25,72.06 L379.28,73.5 L379.3,73.8 L379.32,74.89 L379.35,75.47 L379.37,76.76 L379.39,77.8 L379.42,78.71 L379.44,79.85 L379.46,80.07 L379.49,80.87 L379.51,81.84 L379.54,82.64 L379.56,83.95 L379.59,84.1 L379.61,85.09 L379.64,86.3 L379.66,86.48 L379.69,87.21 L379.72,87.83 L379.74,88.37 L379.77,88.97 L379.8,90 L379.88,90.69 L379.95,92.01 L380.03,93.81 L380.1,94.74 L380.17,95.37 L380.25,96.23 L380.32,96.95 L380.4,97.43 L380.48,98.21 L380.55,98.73 L380.63,99.52 L380.72,99.86 L380.81,100.68 L380.9,100.8 L380.99,102.32 L381.09,102.17 L381.19,103.38 L381.3,104.19 L381.38,104.69 L381.47,106.19 L381.56,106.48 L381.64,107.02 L381.73,107.94 L381.82,108.63 L381.91,109.77 L382.01,111.01 L382.1,111.82 L382.2,112 L382.3,113.29 L382.4,114.01 L382.5,115.04 L382.61,115.35 L382.72,116.1 L382.83,117.01 L382.94,118.56 L383.05,119.02 L383.17,119.84 L383.29,120.64 L383.41,121.43 L383.54,122.21 L383.67,122.96 L383.8,123.7 L383.97,124.62 L384.15,125.54 L384.32,126.46 L384.51,127.38 L384.69,128.3 L384.88,129.21 L385.08,130.1 L385.28,130.99 L385.48,131.86 L385.68,132.71 L385.89,133.54 L386.11,134.35 L386.32,135.13 L386.55,135.88 L386.77,136.6 L387,137.28 L387.23,137.93 L387.46,138.54 L387.7,139.1 L388.22,140.15 L388.78,141.03 L389.36,141.76 L389.96,142.36 L390.57,142.86 L391.17,143.28 L391.77,143.64 L392.35,143.98 L392.9,144.3 L393.82,144.69 L394.69,144.78 L395.54,144.76 L396.43,144.77 L397.4,145 L398.06,145.29 L398.74,145.65 L399.44,146.07 L400.16,146.52 L400.89,146.99 L401.65,147.43 L402.42,147.85 L403.2,148.2 L403.78,148.51 L404.07,148.8 L404.26,149.07 L404.53,149.32 L405.05,149.55 L406.01,149.75 L407.6,149.94 L410,150.1 L410.5,150.12 L411.04,150.15 L411.62,150.17 L412.25,150.19 L412.91,150.21 L413.6,150.23 L414.33,150.25 L415.09,150.27 L415.88,150.29 L416.69,150.3 L417.53,150.32 L418.4,150.34 L419.29,150.35 L420.19,150.36 L421.12,150.38 L422.06,150.39 L423.01,150.4 L423.98,150.41 L424.96,150.42 L425.94,150.43 L426.93,150.44 L427.93,150.45 L428.93,150.46 L429.93,150.47 L430.92,150.48 L431.92,150.48 L432.9,150.49 L433.88,150.5 L434.86,150.5 L435.82,150.51 L436.76,150.52 L437.7,150.52 L438.61,150.53 L439.51,150.53 L440.38,150.54 L441.24,150.54 L442.07,150.55 L442.87,150.55 L443.64,150.56 L444.38,150.56 L445.09,150.57 L445.77,150.57 L446.41,150.58 L447.01,150.58 L447.57,150.59 L448.09,150.59 L448.57,150.59 L449,150.6" fill="none" stroke="#a567e8" stroke-width="1.1" stroke-linejoin="round" />
<line x1="376.4" y1="23.8" x2="376.4" y2="144.3" stroke="#383838" stroke-width="1" stroke-dasharray="2.8,2.7"/>
<rect x="263.9" y="0.4" width="185.5" height="150.7" fill="none" stroke="#262626" stroke-width="1.2"/>
<line x1="285.5" y1="151.1" x2="285.5" y2="153.9" stroke="#262626" stroke-width="1" />
<line x1="328.4" y1="151.1" x2="328.4" y2="153.9" stroke="#262626" stroke-width="1" />
<line x1="371.3" y1="151.1" x2="371.3" y2="153.9" stroke="#262626" stroke-width="1" />
<line x1="414.3" y1="151.1" x2="414.3" y2="153.9" stroke="#262626" stroke-width="1" />
<line x1="306.9" y1="151.1" x2="306.9" y2="152.9" stroke="#262626" stroke-width="1" />
<line x1="349.9" y1="151.1" x2="349.9" y2="152.9" stroke="#262626" stroke-width="1" />
<line x1="392.8" y1="151.1" x2="392.8" y2="152.9" stroke="#262626" stroke-width="1" />
<line x1="435.7" y1="151.1" x2="435.7" y2="152.9" stroke="#262626" stroke-width="1" />
<text x="276.76" y="162.9" font-size="7.8" fill="#1e1e1e" stroke="#1e1e1e" stroke-width="0.12" ><tspan>2300</tspan></text>
<text x="319.66" y="162.9" font-size="7.8" fill="#1e1e1e" stroke="#1e1e1e" stroke-width="0.12" ><tspan>2200</tspan></text>
<text x="362.56" y="162.9" font-size="7.8" fill="#1e1e1e" stroke="#1e1e1e" stroke-width="0.12" ><tspan>2100</tspan></text>
<text x="405.56" y="162.9" font-size="7.8" fill="#1e1e1e" stroke="#1e1e1e" stroke-width="0.12" ><tspan>2000</tspan></text>
<text x="312.05" y="179" font-size="10.18" fill="#1e1e1e" stroke="#1e1e1e" stroke-width="0.12" ><tspan>Wavenumber (cm</tspan><tspan font-size="6.62" dy="-3.87">-1</tspan><tspan dy="3.87">)</tspan></text>
<text x="0" y="0" font-size="10.24" fill="#1e1e1e" stroke="#1e1e1e" stroke-width="0.12" transform="translate(253.6 116.3) rotate(-90)"><tspan x="-0.82"><tspan>Kubelka Munk (a.u.)</tspan></tspan></text>
<text x="232.86" y="12.5" font-size="17.36" fill="#111" stroke="#111" stroke-width="0.12" ><tspan>(b)</tspan></text>
<text x="274.84" y="19.1" font-size="9.54" fill="#1e1e1e" stroke="#1e1e1e" stroke-width="0.12" ><tspan>Pt</tspan><tspan font-size="6.2" dy="2.39">AT</tspan><tspan dy="-2.39">CeO</tspan><tspan font-size="6.2" dy="2.39">2</tspan></text>
<line x1="285.2" y1="43.9" x2="303.5" y2="43.9" stroke="#8a8a8a" stroke-width="1.2" />
<line x1="285.2" y1="55.58" x2="303.5" y2="55.58" stroke="#eb3a3a" stroke-width="1.2" />
<line x1="285.2" y1="67.26" x2="303.5" y2="67.26" stroke="#2f6de0" stroke-width="1.2" />
<line x1="285.2" y1="78.94" x2="303.5" y2="78.94" stroke="#3c9f5e" stroke-width="1.2" />
<line x1="285.2" y1="90.62" x2="303.5" y2="90.62" stroke="#a567e8" stroke-width="1.2" />
<text x="305.47" y="46.8" font-size="8.17" fill="#1e1e1e" stroke="#1e1e1e" stroke-width="0.12" ><tspan>35 °C</tspan></text>
<text x="305.43" y="58.48" font-size="8.19" fill="#1e1e1e" stroke="#1e1e1e" stroke-width="0.12" ><tspan>80 °C</tspan></text>
<text x="305.8" y="70.16" font-size="7.99" fill="#1e1e1e" stroke="#1e1e1e" stroke-width="0.12" ><tspan>120 °C</tspan></text>
<text x="305.8" y="81.84" font-size="7.99" fill="#1e1e1e" stroke="#1e1e1e" stroke-width="0.12" ><tspan>150 °C</tspan></text>
<text x="305.8" y="93.52" font-size="7.99" fill="#1e1e1e" stroke="#1e1e1e" stroke-width="0.12" ><tspan>180 °C</tspan></text>
<text x="365.76" y="19.9" font-size="6.76" fill="#1e1e1e" stroke="#1e1e1e" stroke-width="0.12" ><tspan>CO-Pt</tspan><tspan font-size="4.4" dy="1.69">1</tspan></text>
<text x="354.75" y="35.6" font-size="6.93" fill="#1e1e1e" stroke="#1e1e1e" stroke-width="0.12" ><tspan>2088</tspan></text>
<line x1="410.2" y1="29.1" x2="410.2" y2="43.7" stroke="#222" stroke-width="1" />
<text x="412.45" y="40.2" font-size="8.8" fill="#1e1e1e" stroke="#1e1e1e" stroke-width="0.12" ><tspan>0.002</tspan></text>
<rect x="597.2" y="56.9" width="36.4" height="63.4" fill="#f7d5be" />
<path d="M493,111.1 C494.33,111.5 498.43,112.78 501,113.5 C503.57,114.22 506.65,115.48 508.4,115.4 C510.15,115.32 510.57,113.62 511.5,113 C512.43,112.38 513.08,111.37 514,111.7 C514.92,112.03 515.93,113.93 517,115 C518.07,116.07 518.45,117.43 520.4,118.1 C522.35,118.77 525.78,119.6 528.7,119 C531.62,118.4 535.15,116.48 537.9,114.5 C540.65,112.52 542.43,108.8 545.2,107.1 C547.97,105.4 551.88,104.45 554.5,104.3 C557.12,104.15 559.07,104.82 560.9,106.2 C562.73,107.58 564.18,110.45 565.5,112.6 C566.82,114.75 567.57,119.72 568.8,119.1 C570.03,118.48 571.87,111.22 572.9,108.9 C573.93,106.58 574.08,108.27 575,105.2 C575.92,102.13 577.7,93.58 578.4,90.5 C579.1,87.42 578.58,88.45 579.2,86.7 C579.82,84.95 581.3,83.12 582.1,80 C582.9,76.88 583.42,71.38 584,68 C584.58,64.62 585.1,64 585.6,59.7 C586.1,55.4 586.47,47.42 587,42.2 C587.53,36.98 588.18,31.85 588.8,28.4 C589.42,24.95 590.17,21.5 590.7,21.5 C591.23,21.5 591.55,24.95 592,28.4 C592.45,31.85 592.93,36.98 593.4,42.2 C593.87,47.42 594.3,53.48 594.8,59.7 C595.3,65.92 595.37,75.42 596.4,79.5 C597.43,83.58 599.52,82.58 601,84.2 C602.48,85.82 603.9,87.1 605.3,89.2 C606.7,91.3 607.73,94.7 609.4,96.8 C611.07,98.9 613.47,100.12 615.3,101.8 C617.13,103.48 618.43,104.93 620.4,106.9 C622.37,108.87 624.87,111.78 627.1,113.6 C629.33,115.42 631,116.27 633.8,117.8 C636.6,119.33 639.43,121.6 643.9,122.8 C648.37,124 655.17,124.52 660.6,125 C666.03,125.48 673.85,125.58 676.5,125.7" fill="none" stroke="#383838" stroke-width="1.1" stroke-linejoin="round" stroke-linecap="round" />
<path d="M493,118.5 C498.63,118.5 518.1,118.8 526.8,118.5 C535.5,118.2 540.28,117.22 545.2,116.7 C550.12,116.18 553.22,115.4 556.3,115.4 C559.38,115.4 561.62,116.18 563.7,116.7 C565.78,117.22 566.65,118.42 568.8,118.5 C570.95,118.58 574.38,118.18 576.6,117.2 C578.82,116.22 580.57,116.13 582.1,112.6 C583.63,109.07 584.88,101.43 585.8,96 C586.72,90.57 587.02,84.9 587.6,80 C588.18,75.1 588.58,69.7 589.3,66.6 C590.02,63.5 591.03,60.98 591.9,61.4 C592.77,61.82 593.9,66 594.5,69.1 C595.1,72.2 594.97,75.38 595.5,80 C596.03,84.62 596.35,92.05 597.7,96.8 C599.05,101.55 601.22,105.57 603.6,108.5 C605.98,111.43 607.8,113.05 612,114.4 C616.2,115.75 623.22,115.95 628.8,116.6 C634.38,117.25 637.55,117.97 645.5,118.3 C653.45,118.63 671.33,118.55 676.5,118.6" fill="none" stroke="#eb3a3a" stroke-width="1.1" stroke-linejoin="round" stroke-linecap="round" />
<path d="M493,142.1 C497.1,141.95 510.43,141.52 517.6,141.2 C524.77,140.88 530.17,140.6 536,140.2 C541.83,139.8 548.3,138.85 552.6,138.8 C556.9,138.75 559.03,139.45 561.8,139.9 C564.57,140.35 566.43,141.55 569.2,141.5 C571.97,141.45 575.75,140.33 578.4,139.6 C581.05,138.87 583.15,138.78 585.1,137.1 C587.05,135.42 588.7,132.87 590.1,129.5 C591.5,126.13 592.52,118.58 593.5,116.9 C594.48,115.22 595.17,116.6 596,119.4 C596.83,122.2 596.95,130.2 598.5,133.7 C600.05,137.2 601.65,139.05 605.3,140.4 C608.95,141.75 608.53,141.47 620.4,141.8 C632.27,142.13 667.15,142.3 676.5,142.4" fill="none" stroke="#2f6de0" stroke-width="1.1" stroke-linejoin="round" stroke-linecap="round" />
<line x1="590.8" y1="34.9" x2="590.8" y2="125.3" stroke="#666" stroke-width="1.3" stroke-dasharray="2.6,2.4"/>
<rect x="492.8" y="1" width="184" height="150.4" fill="none" stroke="#262626" stroke-width="1.2"/>
<line x1="492.9" y1="151.4" x2="492.9" y2="154.2" stroke="#262626" stroke-width="1" />
<line x1="541.4" y1="151.4" x2="541.4" y2="154.2" stroke="#262626" stroke-width="1" />
<line x1="589.9" y1="151.4" x2="589.9" y2="154.2" stroke="#262626" stroke-width="1" />
<line x1="638.2" y1="151.4" x2="638.2" y2="154.2" stroke="#262626" stroke-width="1" />
<line x1="517.2" y1="151.4" x2="517.2" y2="153.2" stroke="#262626" stroke-width="1" />
<line x1="565.7" y1="151.4" x2="565.7" y2="153.2" stroke="#262626" stroke-width="1" />
<line x1="614" y1="151.4" x2="614" y2="153.2" stroke="#262626" stroke-width="1" />
<line x1="662.3" y1="151.4" x2="662.3" y2="153.2" stroke="#262626" stroke-width="1" />
<text x="484.62" y="162.8" font-size="7.66" fill="#1e1e1e" stroke="#1e1e1e" stroke-width="0.12" ><tspan>2300</tspan></text>
<text x="532.82" y="162.8" font-size="7.66" fill="#1e1e1e" stroke="#1e1e1e" stroke-width="0.12" ><tspan>2200</tspan></text>
<text x="581.32" y="162.8" font-size="7.66" fill="#1e1e1e" stroke="#1e1e1e" stroke-width="0.12" ><tspan>2100</tspan></text>
<text x="629.62" y="162.8" font-size="7.66" fill="#1e1e1e" stroke="#1e1e1e" stroke-width="0.12" ><tspan>2000</tspan></text>
<text x="541.35" y="177.9" font-size="10.05" fill="#1e1e1e" stroke="#1e1e1e" stroke-width="0.12" ><tspan>Wavenumber (cm</tspan><tspan font-size="6.53" dy="-3.82">-1</tspan><tspan dy="3.82">)</tspan></text>
<text x="0" y="0" font-size="10.12" fill="#1e1e1e" stroke="#1e1e1e" stroke-width="0.12" transform="translate(481.6 116.3) rotate(-90)"><tspan x="-0.81"><tspan>Kubelka Munk (a.u.)</tspan></tspan></text>
<text x="461.88" y="12.5" font-size="16.94" fill="#111" stroke="#111" stroke-width="0.12" ><tspan>(c)</tspan></text>
<text x="500.5" y="18.1" font-size="7.95" fill="#1e1e1e" stroke="#1e1e1e" stroke-width="0.12" ><tspan>Cooling from 250 °C</tspan></text>
<line x1="496.3" y1="35.2" x2="513.7" y2="35.2" stroke="#8a8a8a" stroke-width="1.4" />
<text x="515.88" y="38" font-size="8.11" fill="#1e1e1e" stroke="#1e1e1e" stroke-width="0.12" ><tspan>to 35 °C in CO+O</tspan><tspan font-size="5.27" dy="2.03">2</tspan></text>
<line x1="496.3" y1="48.4" x2="513.7" y2="48.4" stroke="#eb3a3a" stroke-width="1.4" />
<text x="515.88" y="51.2" font-size="8.15" fill="#1e1e1e" stroke="#1e1e1e" stroke-width="0.12" ><tspan>to 35 °C in O</tspan><tspan font-size="5.3" dy="2.04">2</tspan></text>
<line x1="496.3" y1="61.9" x2="513.7" y2="61.9" stroke="#6b9ee8" stroke-width="1.4" />
<text x="515.88" y="64.7" font-size="8.11" fill="#1e1e1e" stroke="#1e1e1e" stroke-width="0.12" ><tspan>to 35 °C in CO+O</tspan><tspan font-size="5.27" dy="2.03">2</tspan></text>
<text x="581.96" y="16.1" font-size="6.76" fill="#1e1e1e" stroke="#1e1e1e" stroke-width="0.12" ><tspan>CO-Pt</tspan><tspan font-size="4.4" dy="1.69">1</tspan></text>
<text x="604.46" y="36.8" font-size="6.83" fill="#1e1e1e" stroke="#1e1e1e" stroke-width="0.12" ><tspan>&gt;2000</tspan></text>
<text x="604.46" y="47.8" font-size="6.85" fill="#1e1e1e" stroke="#1e1e1e" stroke-width="0.12" ><tspan>CO-Pt</tspan><tspan font-size="4.45" dy="1.71">n</tspan></text>
<line x1="641.8" y1="16.1" x2="641.8" y2="25.3" stroke="#222" stroke-width="1" />
<text x="644.77" y="23.8" font-size="8.3" fill="#1e1e1e" stroke="#1e1e1e" stroke-width="0.12" ><tspan>0.002</tspan></text>
<text x="509.14" y="102.5" font-size="9.49" fill="#1e1e1e" stroke="#1e1e1e" stroke-width="0.12" ><tspan>Pt/CeO</tspan><tspan font-size="6.17" dy="2.37">2</tspan></text>
<text x="509.53" y="133.8" font-size="9.67" fill="#1e1e1e" stroke="#1e1e1e" stroke-width="0.12" ><tspan>Pt</tspan><tspan font-size="6.28" dy="2.42">AT</tspan><tspan dy="-2.42">CeO</tspan><tspan font-size="6.28" dy="2.42">2</tspan></text>
<path d="M35.2,332 C37.45,331.7 44.92,330.97 48.7,330.2 C52.48,329.43 55.13,328.93 57.9,327.4 C60.67,325.87 63.23,323.9 65.3,321 C67.37,318.1 69,314.88 70.3,310 C71.6,305.12 72.22,301.2 73.1,291.7 C73.98,282.2 74.7,264.28 75.6,253 C76.5,241.72 77.58,232.38 78.5,224 C79.42,215.62 80.28,202.7 81.1,202.7 C81.92,202.7 82.7,215.62 83.4,224 C84.1,232.38 84.5,244.93 85.3,253 C86.1,261.07 87.07,266.92 88.2,272.4 C89.33,277.88 90.65,283 92.1,285.9 C93.55,288.8 95.25,289.45 96.9,289.8 C98.55,290.15 99.9,289.08 102,288 C104.1,286.92 107.03,284.3 109.5,283.3 C111.97,282.3 114.38,282.62 116.8,282 C119.22,281.38 121.9,280.58 124,279.6 C126.1,278.62 126.68,277.6 129.4,276.1 C132.12,274.6 136.65,272.08 140.3,270.6 C143.95,269.12 147.9,267.32 151.3,267.2 C154.7,267.08 157.32,268.6 160.7,269.9 C164.08,271.2 167.95,273.7 171.6,275 C175.25,276.3 178.17,277.1 182.6,277.7 C187.03,278.3 192.8,278.68 198.2,278.6 C203.6,278.52 212.2,277.43 215,277.2" fill="none" stroke="#404040" stroke-width="1.1" stroke-linejoin="round" stroke-linecap="round" />
<path d="M35.2,332.6 C37.77,332.35 46.5,331.82 50.6,331.1 C54.7,330.38 57.05,329.68 59.8,328.3 C62.55,326.92 64.95,325.55 67.1,322.8 C69.25,320.05 71.12,316.98 72.7,311.8 C74.28,306.62 75.47,301.5 76.6,291.7 C77.73,281.9 78.72,262.37 79.5,253 C80.28,243.63 80.67,240.08 81.3,235.5 C81.93,230.92 82.57,225.5 83.3,225.5 C84.03,225.5 84.95,230.92 85.7,235.5 C86.45,240.08 86.98,246.85 87.8,253 C88.62,259.15 89.45,267.67 90.6,272.4 C91.75,277.13 93.55,279.53 94.7,281.4 C95.85,283.27 96.27,283.45 97.5,283.6 C98.73,283.75 99.8,283.12 102.1,282.3 C104.4,281.48 107.65,280.08 111.3,278.7 C114.95,277.32 120.47,274.95 124,274 C127.53,273.05 129,273.57 132.5,273 C136,272.43 140.82,271.38 145,270.6 C149.18,269.82 153.93,268.17 157.6,268.3 C161.27,268.43 163.35,270.35 167,271.4 C170.65,272.45 175.07,273.85 179.5,274.6 C183.93,275.35 187.68,275.83 193.6,275.9 C199.52,275.97 211.43,275.15 215,275" fill="none" stroke="#f27878" stroke-width="1.1" stroke-linejoin="round" stroke-linecap="round" />
<path d="M35.2,332.6 C37.77,332.35 46.5,331.82 50.6,331.1 C54.7,330.38 57.05,329.68 59.8,328.3 C62.55,326.92 64.95,325.55 67.1,322.8 C69.25,320.05 71.12,316.98 72.7,311.8 C74.28,306.62 75.47,301.5 76.6,291.7 C77.73,281.9 78.72,262.28 79.5,253 C80.28,243.72 80.67,240.5 81.3,236 C81.93,231.5 82.57,226 83.3,226 C84.03,226 84.95,231.5 85.7,236 C86.45,240.5 86.98,246.93 87.8,253 C88.62,259.07 89.45,267.67 90.6,272.4 C91.75,277.13 93.55,279.53 94.7,281.4 C95.85,283.27 96.27,283.45 97.5,283.6 C98.73,283.75 99.8,283.12 102.1,282.3 C104.4,281.48 107.65,280.08 111.3,278.7 C114.95,277.32 120.47,274.95 124,274 C127.53,273.05 129,273.57 132.5,273 C136,272.43 140.82,271.38 145,270.6 C149.18,269.82 153.93,268.17 157.6,268.3 C161.27,268.43 163.35,270.35 167,271.4 C170.65,272.45 175.07,273.85 179.5,274.6 C183.93,275.35 187.68,275.83 193.6,275.9 C199.52,275.97 211.43,275.15 215,275" fill="none" stroke="#d99a20" stroke-width="1.1" stroke-linejoin="round" stroke-linecap="round" />
<path d="M35.2,332.6 C37.77,332.35 46.5,331.82 50.6,331.1 C54.7,330.38 57.05,329.68 59.8,328.3 C62.55,326.92 64.95,325.55 67.1,322.8 C69.25,320.05 71.12,316.98 72.7,311.8 C74.28,306.62 75.47,301.5 76.6,291.7 C77.73,281.9 78.72,262.45 79.5,253 C80.28,243.55 80.67,239.67 81.3,235 C81.93,230.33 82.57,225 83.3,225 C84.03,225 84.95,230.33 85.7,235 C86.45,239.67 86.98,246.77 87.8,253 C88.62,259.23 89.45,267.67 90.6,272.4 C91.75,277.13 93.55,279.53 94.7,281.4 C95.85,283.27 96.27,283.45 97.5,283.6 C98.73,283.75 99.8,283.12 102.1,282.3 C104.4,281.48 107.65,280.08 111.3,278.7 C114.95,277.32 120.47,274.95 124,274 C127.53,273.05 129,273.57 132.5,273 C136,272.43 140.82,271.38 145,270.6 C149.18,269.82 153.93,268.17 157.6,268.3 C161.27,268.43 163.35,270.35 167,271.4 C170.65,272.45 175.07,273.85 179.5,274.6 C183.93,275.35 187.68,275.83 193.6,275.9 C199.52,275.97 211.43,275.15 215,275" fill="none" stroke="#3c9f5e" stroke-width="1.21" stroke-linejoin="round" stroke-linecap="round" />
<path d="M35.2,332.6 C37.77,332.35 46.5,331.82 50.6,331.1 C54.7,330.38 57.05,329.68 59.8,328.3 C62.55,326.92 64.95,325.55 67.1,322.8 C69.25,320.05 71.12,316.98 72.7,311.8 C74.28,306.62 75.47,301.5 76.6,291.7 C77.73,281.9 78.72,262.57 79.5,253 C80.28,243.43 80.67,239.08 81.3,234.3 C81.93,229.52 82.57,224.3 83.3,224.3 C84.03,224.3 84.95,229.52 85.7,234.3 C86.45,239.08 86.98,246.65 87.8,253 C88.62,259.35 89.45,267.67 90.6,272.4 C91.75,277.13 93.55,279.53 94.7,281.4 C95.85,283.27 96.27,283.45 97.5,283.6 C98.73,283.75 99.8,283.12 102.1,282.3 C104.4,281.48 107.65,280.08 111.3,278.7 C114.95,277.32 120.47,274.95 124,274 C127.53,273.05 129,273.57 132.5,273 C136,272.43 140.82,271.38 145,270.6 C149.18,269.82 153.93,268.17 157.6,268.3 C161.27,268.43 163.35,270.35 167,271.4 C170.65,272.45 175.07,273.85 179.5,274.6 C183.93,275.35 187.68,275.83 193.6,275.9 C199.52,275.97 211.43,275.15 215,275" fill="none" stroke="#2f6de0" stroke-width="1.21" stroke-linejoin="round" stroke-linecap="round" />
<path d="M35.2,332.6 C37.77,332.35 46.5,331.82 50.6,331.1 C54.7,330.38 57.05,329.68 59.8,328.3 C62.55,326.92 64.95,325.55 67.1,322.8 C69.25,320.05 71.12,316.98 72.7,311.8 C74.28,306.62 75.47,301.5 76.6,291.7 C77.73,281.9 78.72,261.73 79.5,253 C80.28,244.27 80.67,243.25 81.3,239.3 C81.93,235.35 82.57,229.3 83.3,229.3 C84.03,229.3 84.95,235.35 85.7,239.3 C86.45,243.25 86.98,247.48 87.8,253 C88.62,258.52 89.45,267.67 90.6,272.4 C91.75,277.13 93.55,279.53 94.7,281.4 C95.85,283.27 96.27,283.45 97.5,283.6 C98.73,283.75 99.8,283.12 102.1,282.3 C104.4,281.48 107.65,280.08 111.3,278.7 C114.95,277.32 120.47,274.95 124,274 C127.53,273.05 129,273.57 132.5,273 C136,272.43 140.82,271.38 145,270.6 C149.18,269.82 153.93,268.17 157.6,268.3 C161.27,268.43 163.35,270.35 167,271.4 C170.65,272.45 175.07,273.85 179.5,274.6 C183.93,275.35 187.68,275.83 193.6,275.9 C199.52,275.97 211.43,275.15 215,275" fill="none" stroke="#7b2ff0" stroke-width="1.32" stroke-linejoin="round" stroke-linecap="round" />
<path d="M35.2,332.6 C37.77,332.35 46.5,331.82 50.6,331.1 C54.7,330.38 57.05,329.68 59.8,328.3 C62.55,326.92 64.95,325.55 67.1,322.8 C69.25,320.05 71.12,316.98 72.7,311.8 C74.28,306.62 75.47,301.5 76.6,291.7 C77.73,281.9 78.72,260.73 79.5,253 C80.28,245.27 80.67,248.25 81.3,245.3 C81.93,242.35 82.57,235.3 83.3,235.3 C84.03,235.3 84.95,242.35 85.7,245.3 C86.45,248.25 86.98,248.48 87.8,253 C88.62,257.52 89.45,267.67 90.6,272.4 C91.75,277.13 93.55,279.53 94.7,281.4 C95.85,283.27 96.27,283.45 97.5,283.6 C98.73,283.75 99.8,283.12 102.1,282.3 C104.4,281.48 107.65,280.08 111.3,278.7 C114.95,277.32 120.47,274.95 124,274 C127.53,273.05 129,273.57 132.5,273 C136,272.43 140.82,271.38 145,270.6 C149.18,269.82 153.93,268.17 157.6,268.3 C161.27,268.43 163.35,270.35 167,271.4 C170.65,272.45 175.07,273.85 179.5,274.6 C183.93,275.35 187.68,275.83 193.6,275.9 C199.52,275.97 211.43,275.15 215,275" fill="none" stroke="#22c4d4" stroke-width="1.21" stroke-linejoin="round" stroke-linecap="round" />
<line x1="83.2" y1="203.3" x2="87" y2="220.5" stroke="#eb3a3a" stroke-width="1.1" />
<path d="M88.1,224.6 L84.9,219.8 L88.6,219.1 Z" fill="#eb3a3a"/>
<rect x="34.7" y="186.4" width="180.7" height="147" fill="none" stroke="#262626" stroke-width="1.2"/>
<line x1="34.7" y1="333.5" x2="32.1" y2="333.5" stroke="#262626" stroke-width="1" />
<line x1="34.7" y1="304.08" x2="32.1" y2="304.08" stroke="#262626" stroke-width="1" />
<line x1="34.7" y1="274.66" x2="32.1" y2="274.66" stroke="#262626" stroke-width="1" />
<line x1="34.7" y1="245.24" x2="32.1" y2="245.24" stroke="#262626" stroke-width="1" />
<line x1="34.7" y1="215.82" x2="32.1" y2="215.82" stroke="#262626" stroke-width="1" />
<line x1="34.7" y1="186.4" x2="32.1" y2="186.4" stroke="#262626" stroke-width="1" />
<line x1="34.7" y1="318.79" x2="33.1" y2="318.79" stroke="#262626" stroke-width="1" />
<line x1="34.7" y1="289.37" x2="33.1" y2="289.37" stroke="#262626" stroke-width="1" />
<line x1="34.7" y1="259.95" x2="33.1" y2="259.95" stroke="#262626" stroke-width="1" />
<line x1="34.7" y1="230.53" x2="33.1" y2="230.53" stroke="#262626" stroke-width="1" />
<line x1="34.7" y1="201.11" x2="33.1" y2="201.11" stroke="#262626" stroke-width="1" />
<text x="18.63" y="336.1" font-size="9.2" fill="#1e1e1e" stroke="#1e1e1e" stroke-width="0.12" ><tspan>0.0</tspan></text>
<text x="18.63" y="306.68" font-size="9.24" fill="#1e1e1e" stroke="#1e1e1e" stroke-width="0.12" ><tspan>0.5</tspan></text>
<text x="18.29" y="277.26" font-size="9.45" fill="#1e1e1e" stroke="#1e1e1e" stroke-width="0.12" ><tspan>1.0</tspan></text>
<text x="18.29" y="247.84" font-size="9.49" fill="#1e1e1e" stroke="#1e1e1e" stroke-width="0.12" ><tspan>1.5</tspan></text>
<text x="18.54" y="218.42" font-size="9.27" fill="#1e1e1e" stroke="#1e1e1e" stroke-width="0.12" ><tspan>2.0</tspan></text>
<text x="18.53" y="189" font-size="9.31" fill="#1e1e1e" stroke="#1e1e1e" stroke-width="0.12" ><tspan>2.5</tspan></text>
<line x1="49.7" y1="333.4" x2="49.7" y2="336" stroke="#262626" stroke-width="1" />
<line x1="95.2" y1="333.4" x2="95.2" y2="336" stroke="#262626" stroke-width="1" />
<line x1="140.4" y1="333.4" x2="140.4" y2="336" stroke="#262626" stroke-width="1" />
<line x1="185.6" y1="333.4" x2="185.6" y2="336" stroke="#262626" stroke-width="1" />
<line x1="72.4" y1="333.4" x2="72.4" y2="335" stroke="#262626" stroke-width="1" />
<line x1="117.8" y1="333.4" x2="117.8" y2="335" stroke="#262626" stroke-width="1" />
<line x1="163" y1="333.4" x2="163" y2="335" stroke="#262626" stroke-width="1" />
<line x1="208.3" y1="333.4" x2="208.3" y2="335" stroke="#262626" stroke-width="1" />
<text x="37.91" y="343.8" font-size="8.59" fill="#1e1e1e" stroke="#1e1e1e" stroke-width="0.12" ><tspan>11550</tspan></text>
<text x="83.41" y="343.8" font-size="8.59" fill="#1e1e1e" stroke="#1e1e1e" stroke-width="0.12" ><tspan>11580</tspan></text>
<text x="128.61" y="343.8" font-size="8.59" fill="#1e1e1e" stroke="#1e1e1e" stroke-width="0.12" ><tspan>11610</tspan></text>
<text x="173.81" y="343.8" font-size="8.59" fill="#1e1e1e" stroke="#1e1e1e" stroke-width="0.12" ><tspan>11640</tspan></text>
<text x="85.27" y="356.9" font-size="9.17" fill="#1e1e1e" stroke="#1e1e1e" stroke-width="0.12" ><tspan>Photon Energy (eV)</tspan></text>
<text x="0" y="0" font-size="9.14" fill="#1e1e1e" stroke="#1e1e1e" stroke-width="0.12" transform="translate(12.3 305.3) rotate(-90)"><tspan x="-0.73"><tspan>Normalized Absorption</tspan></tspan></text>
<text x="-0.35" y="198.7" font-size="15.91" fill="#111" stroke="#111" stroke-width="0.12" ><tspan>(d)</tspan></text>
<text x="39.86" y="199.9" font-size="9.26" fill="#1e1e1e" stroke="#1e1e1e" stroke-width="0.12" ><tspan>Pt/CeO</tspan><tspan font-size="6.02" dy="2.32">2</tspan></text>
<line x1="102.9" y1="194.6" x2="120.9" y2="194.6" stroke="#8a8a8a" stroke-width="1.2" />
<line x1="102.9" y1="204.8" x2="120.9" y2="204.8" stroke="#f27878" stroke-width="1.2" />
<line x1="102.9" y1="216.5" x2="120.9" y2="216.5" stroke="#2f6de0" stroke-width="1.2" />
<line x1="102.9" y1="227.9" x2="120.9" y2="227.9" stroke="#3c9f5e" stroke-width="1.2" />
<line x1="102.9" y1="238.1" x2="120.9" y2="238.1" stroke="#7b2ff0" stroke-width="1.2" />
<line x1="102.9" y1="248.1" x2="120.9" y2="248.1" stroke="#d99a20" stroke-width="1.2" />
<line x1="102.9" y1="258.2" x2="120.9" y2="258.2" stroke="#22c4d4" stroke-width="1.2" />
<text x="123.19" y="197.6" font-size="8.15" fill="#1e1e1e" stroke="#1e1e1e" stroke-width="0.12" ><tspan>25 °C in air</tspan></text>
<text x="123.19" y="207.8" font-size="8.15" fill="#1e1e1e" stroke="#1e1e1e" stroke-width="0.12" ><tspan>25 °C in CO + O</tspan><tspan font-size="5.3" dy="2.04">2</tspan></text>
<text x="123.19" y="219.5" font-size="8.15" fill="#1e1e1e" stroke="#1e1e1e" stroke-width="0.12" ><tspan>70 °C</tspan></text>
<text x="122.99" y="230.9" font-size="8.15" fill="#1e1e1e" stroke="#1e1e1e" stroke-width="0.12" ><tspan>100 °C</tspan></text>
<text x="122.99" y="241.1" font-size="8.15" fill="#1e1e1e" stroke="#1e1e1e" stroke-width="0.12" ><tspan>150 °C</tspan></text>
<text x="122.99" y="251.1" font-size="8.15" fill="#1e1e1e" stroke="#1e1e1e" stroke-width="0.12" ><tspan>180 °C</tspan></text>
<text x="122.99" y="261.2" font-size="8.15" fill="#1e1e1e" stroke="#1e1e1e" stroke-width="0.12" ><tspan>180 °C after 30 mins</tspan></text>
<path d="M267.6,333.9 C270.23,333.45 278.92,332.27 283.4,331.2 C287.88,330.13 291.53,329.2 294.5,327.5 C297.47,325.8 299.47,323.92 301.2,321 C302.93,318.08 303.92,313.6 304.9,310 C305.88,306.4 306.42,304.4 307.1,299.4 C307.78,294.4 308.28,287.73 309,280 C309.72,272.27 310.7,261.33 311.4,253 C312.1,244.67 312.7,236.83 313.2,230 C313.7,223.17 313.97,216.37 314.4,212 C314.83,207.63 315.08,203.42 315.8,203.8 C316.52,204.18 318.05,209.32 318.7,214.3 C319.35,219.28 319.3,227.25 319.7,233.7 C320.1,240.15 320.45,246.55 321.1,253 C321.75,259.45 322.8,267.73 323.6,272.4 C324.4,277.07 325.1,278.73 325.9,281 C326.7,283.27 327.5,284.53 328.4,286 C329.3,287.47 329.68,289.63 331.3,289.8 C332.92,289.97 335.65,288.08 338.1,287 C340.55,285.92 343.15,284.38 346,283.3 C348.85,282.22 352.03,281.58 355.2,280.5 C358.37,279.42 362.33,277.95 365,276.8 C367.67,275.65 367.13,275.03 371.2,273.6 C375.27,272.17 384.33,268.43 389.4,268.2 C394.47,267.97 397.55,270.68 401.6,272.2 C405.65,273.72 409.32,276.22 413.7,277.3 C418.08,278.38 422.02,278.77 427.9,278.7 C433.78,278.63 445.48,277.2 449,276.9" fill="none" stroke="#505050" stroke-width="1.1" stroke-linejoin="round" stroke-linecap="round" />
<path d="M267.6,333.9 C270.23,333.45 278.92,332.27 283.4,331.2 C287.88,330.13 291.43,329.2 294.5,327.5 C297.57,325.8 299.97,323.92 301.8,321 C303.63,318.08 304.52,313.6 305.5,310 C306.48,306.4 307.02,304.4 307.7,299.4 C308.38,294.4 308.88,287.73 309.6,280 C310.32,272.27 311.3,261.33 312,253 C312.7,244.67 313.3,236.83 313.8,230 C314.3,223.17 314.57,216.17 315,212 C315.43,207.83 315.68,204.62 316.4,205 C317.12,205.38 318.65,209.52 319.3,214.3 C319.95,219.08 319.9,227.25 320.3,233.7 C320.7,240.15 321.05,246.55 321.7,253 C322.35,259.45 323.4,267.73 324.2,272.4 C325,277.07 325.7,278.73 326.5,281 C327.3,283.27 328.1,284.53 329,286 C329.9,287.47 330.28,289.63 331.9,289.8 C333.52,289.97 336.35,288.08 338.7,287 C341.05,285.92 343.25,284.38 346,283.3 C348.75,282.22 352.03,281.58 355.2,280.5 C358.37,279.42 362.33,277.95 365,276.8 C367.67,275.65 367.13,275.03 371.2,273.6 C375.27,272.17 384.33,268.43 389.4,268.2 C394.47,267.97 397.55,270.68 401.6,272.2 C405.65,273.72 409.32,276.22 413.7,277.3 C418.08,278.38 422.02,278.77 427.9,278.7 C433.78,278.63 445.48,277.2 449,276.9" fill="none" stroke="#f27878" stroke-width="1.1" stroke-linejoin="round" stroke-linecap="round" />
<path d="M267.6,333.9 C270.23,333.45 278.92,332.27 283.4,331.2 C287.88,330.13 291.43,329.2 294.5,327.5 C297.57,325.8 299.97,323.92 301.8,321 C303.63,318.08 304.52,313.6 305.5,310 C306.48,306.4 307.02,304.4 307.7,299.4 C308.38,294.4 308.88,287.73 309.6,280 C310.32,272.27 311.3,261.33 312,253 C312.7,244.67 313.07,237.83 313.8,230 C314.53,222.17 315.48,208.62 316.4,206 C317.32,203.38 318.65,209.68 319.3,214.3 C319.95,218.92 319.9,227.25 320.3,233.7 C320.7,240.15 321.05,246.55 321.7,253 C322.35,259.45 323.4,267.73 324.2,272.4 C325,277.07 325.7,278.73 326.5,281 C327.3,283.27 328.1,284.53 329,286 C329.9,287.47 330.28,289.63 331.9,289.8 C333.52,289.97 336.35,288.08 338.7,287 C341.05,285.92 343.25,284.38 346,283.3 C348.75,282.22 352.03,281.58 355.2,280.5 C358.37,279.42 362.33,277.95 365,276.8 C367.67,275.65 367.13,275.03 371.2,273.6 C375.27,272.17 384.33,268.43 389.4,268.2 C394.47,267.97 397.55,270.68 401.6,272.2 C405.65,273.72 409.32,276.22 413.7,277.3 C418.08,278.38 422.02,278.77 427.9,278.7 C433.78,278.63 445.48,277.2 449,276.9" fill="none" stroke="#d99a20" stroke-width="1.1" stroke-linejoin="round" stroke-linecap="round" />
<path d="M267.6,333.9 C270.23,333.45 278.92,332.27 283.4,331.2 C287.88,330.13 291.43,329.2 294.5,327.5 C297.57,325.8 299.97,323.92 301.8,321 C303.63,318.08 304.52,313.6 305.5,310 C306.48,306.4 307.02,304.4 307.7,299.4 C308.38,294.4 308.88,287.73 309.6,280 C310.32,272.27 311.3,261.33 312,253 C312.7,244.67 313.3,236.83 313.8,230 C314.3,223.17 314.57,216.55 315,212 C315.43,207.45 315.68,202.32 316.4,202.7 C317.12,203.08 318.65,209.13 319.3,214.3 C319.95,219.47 319.9,227.25 320.3,233.7 C320.7,240.15 321.05,246.55 321.7,253 C322.35,259.45 323.4,267.73 324.2,272.4 C325,277.07 325.7,278.73 326.5,281 C327.3,283.27 328.1,284.53 329,286 C329.9,287.47 330.28,289.63 331.9,289.8 C333.52,289.97 336.35,288.08 338.7,287 C341.05,285.92 343.25,284.38 346,283.3 C348.75,282.22 352.03,281.58 355.2,280.5 C358.37,279.42 362.33,277.95 365,276.8 C367.67,275.65 367.13,275.03 371.2,273.6 C375.27,272.17 384.33,268.43 389.4,268.2 C394.47,267.97 397.55,270.68 401.6,272.2 C405.65,273.72 409.32,276.22 413.7,277.3 C418.08,278.38 422.02,278.77 427.9,278.7 C433.78,278.63 445.48,277.2 449,276.9" fill="none" stroke="#2f6de0" stroke-width="1.1" stroke-linejoin="round" stroke-linecap="round" />
<path d="M267.6,333.9 C270.23,333.45 278.92,332.27 283.4,331.2 C287.88,330.13 291.4,329.2 294.5,327.5 C297.6,325.8 300.13,323.92 302,321 C303.87,318.08 304.72,313.6 305.7,310 C306.68,306.4 307.22,304.4 307.9,299.4 C308.58,294.4 309.08,287.73 309.8,280 C310.52,272.27 311.5,261.33 312.2,253 C312.9,244.67 313.27,237.73 314,230 C314.73,222.27 315.68,209.22 316.6,206.6 C317.52,203.98 318.85,209.78 319.5,214.3 C320.15,218.82 320.1,227.25 320.5,233.7 C320.9,240.15 321.25,246.55 321.9,253 C322.55,259.45 323.6,267.73 324.4,272.4 C325.2,277.07 325.9,278.73 326.7,281 C327.5,283.27 328.3,284.53 329.2,286 C330.1,287.47 330.48,289.63 332.1,289.8 C333.72,289.97 336.58,288.08 338.9,287 C341.22,285.92 343.28,284.38 346,283.3 C348.72,282.22 352.03,281.58 355.2,280.5 C358.37,279.42 362.33,277.95 365,276.8 C367.67,275.65 367.13,275.03 371.2,273.6 C375.27,272.17 384.33,268.43 389.4,268.2 C394.47,267.97 397.55,270.68 401.6,272.2 C405.65,273.72 409.32,276.22 413.7,277.3 C418.08,278.38 422.02,278.77 427.9,278.7 C433.78,278.63 445.48,277.2 449,276.9" fill="none" stroke="#3c9f5e" stroke-width="1.1" stroke-linejoin="round" stroke-linecap="round" />
<path d="M267.6,333.9 C270.23,333.45 278.92,332.27 283.4,331.2 C287.88,330.13 291.43,329.2 294.5,327.5 C297.57,325.8 299.97,323.92 301.8,321 C303.63,318.08 304.52,313.6 305.5,310 C306.48,306.4 307.02,304.4 307.7,299.4 C308.38,294.4 308.88,287.73 309.6,280 C310.32,272.27 311.3,261.33 312,253 C312.7,244.67 313.07,235 313.8,230 C314.53,225 315.32,222.38 316.4,223 C317.48,223.62 319.42,228.7 320.3,233.7 C321.18,238.7 321.05,246.55 321.7,253 C322.35,259.45 323.4,267.73 324.2,272.4 C325,277.07 325.7,278.73 326.5,281 C327.3,283.27 328.1,284.53 329,286 C329.9,287.47 330.28,289.63 331.9,289.8 C333.52,289.97 336.35,288.08 338.7,287 C341.05,285.92 343.25,284.38 346,283.3 C348.75,282.22 352.03,281.58 355.2,280.5 C358.37,279.42 362.33,277.95 365,276.8 C367.67,275.65 367.13,275.03 371.2,273.6 C375.27,272.17 384.33,268.43 389.4,268.2 C394.47,267.97 397.55,270.68 401.6,272.2 C405.65,273.72 409.32,276.22 413.7,277.3 C418.08,278.38 422.02,278.77 427.9,278.7 C433.78,278.63 445.48,277.2 449,276.9" fill="none" stroke="#7b2ff0" stroke-width="1.1" stroke-linejoin="round" stroke-linecap="round" />
<path d="M267.6,333.9 C270.23,333.45 278.92,332.27 283.4,331.2 C287.88,330.13 291.43,329.2 294.5,327.5 C297.57,325.8 299.97,323.92 301.8,321 C303.63,318.08 304.52,313.6 305.5,310 C306.48,306.4 307.02,304.4 307.7,299.4 C308.38,294.4 308.88,287.73 309.6,280 C310.32,272.27 310.87,261.37 312,253 C313.13,244.63 314.78,229.8 316.4,229.8 C318.02,229.8 320.4,245.9 321.7,253 C323,260.1 323.4,267.73 324.2,272.4 C325,277.07 325.7,278.73 326.5,281 C327.3,283.27 328.1,284.53 329,286 C329.9,287.47 330.28,289.63 331.9,289.8 C333.52,289.97 336.35,288.08 338.7,287 C341.05,285.92 343.25,284.38 346,283.3 C348.75,282.22 352.03,281.58 355.2,280.5 C358.37,279.42 362.33,277.95 365,276.8 C367.67,275.65 367.13,275.03 371.2,273.6 C375.27,272.17 384.33,268.43 389.4,268.2 C394.47,267.97 397.55,270.68 401.6,272.2 C405.65,273.72 409.32,276.22 413.7,277.3 C418.08,278.38 422.02,278.77 427.9,278.7 C433.78,278.63 445.48,277.2 449,276.9" fill="none" stroke="#22c4d4" stroke-width="1.1" stroke-linejoin="round" stroke-linecap="round" />
<rect x="267.2" y="186.7" width="182.1" height="147.8" fill="none" stroke="#262626" stroke-width="1.2"/>
<line x1="267.2" y1="334.3" x2="264.6" y2="334.3" stroke="#262626" stroke-width="1" />
<line x1="267.2" y1="304.9" x2="264.6" y2="304.9" stroke="#262626" stroke-width="1" />
<line x1="267.2" y1="275.5" x2="264.6" y2="275.5" stroke="#262626" stroke-width="1" />
<line x1="267.2" y1="246.1" x2="264.6" y2="246.1" stroke="#262626" stroke-width="1" />
<line x1="267.2" y1="216.7" x2="264.6" y2="216.7" stroke="#262626" stroke-width="1" />
<line x1="267.2" y1="187.3" x2="264.6" y2="187.3" stroke="#262626" stroke-width="1" />
<line x1="267.2" y1="319.6" x2="265.6" y2="319.6" stroke="#262626" stroke-width="1" />
<line x1="267.2" y1="290.2" x2="265.6" y2="290.2" stroke="#262626" stroke-width="1" />
<line x1="267.2" y1="260.8" x2="265.6" y2="260.8" stroke="#262626" stroke-width="1" />
<line x1="267.2" y1="231.4" x2="265.6" y2="231.4" stroke="#262626" stroke-width="1" />
<line x1="267.2" y1="202" x2="265.6" y2="202" stroke="#262626" stroke-width="1" />
<text x="251.64" y="337.4" font-size="8.9" fill="#1e1e1e" stroke="#1e1e1e" stroke-width="0.12" ><tspan>0.0</tspan></text>
<text x="251.64" y="308" font-size="8.93" fill="#1e1e1e" stroke="#1e1e1e" stroke-width="0.12" ><tspan>0.5</tspan></text>
<text x="251.31" y="278.6" font-size="9.14" fill="#1e1e1e" stroke="#1e1e1e" stroke-width="0.12" ><tspan>1.0</tspan></text>
<text x="251.31" y="249.2" font-size="9.18" fill="#1e1e1e" stroke="#1e1e1e" stroke-width="0.12" ><tspan>1.5</tspan></text>
<text x="251.55" y="219.8" font-size="8.97" fill="#1e1e1e" stroke="#1e1e1e" stroke-width="0.12" ><tspan>2.0</tspan></text>
<text x="251.55" y="190.4" font-size="9" fill="#1e1e1e" stroke="#1e1e1e" stroke-width="0.12" ><tspan>2.5</tspan></text>
<line x1="282.5" y1="334.5" x2="282.5" y2="337.1" stroke="#262626" stroke-width="1" />
<line x1="328.4" y1="334.5" x2="328.4" y2="337.1" stroke="#262626" stroke-width="1" />
<line x1="374.2" y1="334.5" x2="374.2" y2="337.1" stroke="#262626" stroke-width="1" />
<line x1="420" y1="334.5" x2="420" y2="337.1" stroke="#262626" stroke-width="1" />
<line x1="305.5" y1="334.5" x2="305.5" y2="336.1" stroke="#262626" stroke-width="1" />
<line x1="351.3" y1="334.5" x2="351.3" y2="336.1" stroke="#262626" stroke-width="1" />
<line x1="397.1" y1="334.5" x2="397.1" y2="336.1" stroke="#262626" stroke-width="1" />
<line x1="442.9" y1="334.5" x2="442.9" y2="336.1" stroke="#262626" stroke-width="1" />
<text x="270.44" y="344.5" font-size="8.79" fill="#1e1e1e" stroke="#1e1e1e" stroke-width="0.12" ><tspan>11550</tspan></text>
<text x="316.34" y="344.5" font-size="8.79" fill="#1e1e1e" stroke="#1e1e1e" stroke-width="0.12" ><tspan>11580</tspan></text>
<text x="362.14" y="344.5" font-size="8.79" fill="#1e1e1e" stroke="#1e1e1e" stroke-width="0.12" ><tspan>11610</tspan></text>
<text x="407.94" y="344.5" font-size="8.79" fill="#1e1e1e" stroke="#1e1e1e" stroke-width="0.12" ><tspan>11640</tspan></text>
<text x="318.06" y="358.6" font-size="9.21" fill="#1e1e1e" stroke="#1e1e1e" stroke-width="0.12" ><tspan>Photon Energy (eV)</tspan></text>
<text x="0" y="0" font-size="9.19" fill="#1e1e1e" stroke="#1e1e1e" stroke-width="0.12" transform="translate(244.8 306.4) rotate(-90)"><tspan x="-0.74"><tspan>Normalized Absorption</tspan></tspan></text>
<text x="230.53" y="199" font-size="17.91" fill="#111" stroke="#111" stroke-width="0.12" ><tspan>(e)</tspan></text>
<text x="273.14" y="199" font-size="9.52" fill="#1e1e1e" stroke="#1e1e1e" stroke-width="0.12" ><tspan>Pt</tspan><tspan font-size="6.19" dy="2.38">AT</tspan><tspan dy="-2.38">CeO</tspan><tspan font-size="6.19" dy="2.38">2</tspan></text>
<text x="281.29" y="228.9" font-size="8.16" fill="#7b2ff0" stroke="#7b2ff0" stroke-width="0.12" ><tspan>150 °C</tspan></text>
<line x1="305" y1="204.9" x2="309" y2="219.5" stroke="#7b2ff0" stroke-width="1.1" />
<path d="M310,223.6 L307.2,219 L310.9,218.3 Z" fill="#7b2ff0"/>
<line x1="341.1" y1="195" x2="359.9" y2="195" stroke="#8a8a8a" stroke-width="1.3" />
<line x1="341.1" y1="205.1" x2="359.9" y2="205.1" stroke="#f27878" stroke-width="1.3" />
<line x1="341.1" y1="216.9" x2="359.9" y2="216.9" stroke="#5b93e6" stroke-width="1.3" />
<line x1="341.1" y1="228.4" x2="359.9" y2="228.4" stroke="#3c9f5e" stroke-width="1.3" />
<line x1="341.1" y1="238.4" x2="359.9" y2="238.4" stroke="#7b2ff0" stroke-width="1.3" />
<line x1="341.1" y1="249" x2="359.9" y2="249" stroke="#d99a20" stroke-width="1.3" />
<line x1="341.1" y1="258.9" x2="359.9" y2="258.9" stroke="#22c4d4" stroke-width="1.3" />
<text x="361.79" y="198" font-size="8.25" fill="#1e1e1e" stroke="#1e1e1e" stroke-width="0.12" ><tspan>25 °C in air</tspan></text>
<text x="361.79" y="208.1" font-size="8.25" fill="#1e1e1e" stroke="#1e1e1e" stroke-width="0.12" ><tspan>25 °C in CO + O</tspan><tspan font-size="5.36" dy="2.06">2</tspan></text>
<text x="361.79" y="219.9" font-size="8.25" fill="#1e1e1e" stroke="#1e1e1e" stroke-width="0.12" ><tspan>70 °C</tspan></text>
<text x="361.58" y="231.4" font-size="8.25" fill="#1e1e1e" stroke="#1e1e1e" stroke-width="0.12" ><tspan>100 °C</tspan></text>
<text x="361.58" y="241.4" font-size="8.25" fill="#1e1e1e" stroke="#1e1e1e" stroke-width="0.12" ><tspan>150 °C</tspan></text>
<text x="361.58" y="252" font-size="8.25" fill="#1e1e1e" stroke="#1e1e1e" stroke-width="0.12" ><tspan>180 °C</tspan></text>
<text x="361.58" y="261.9" font-size="8.25" fill="#1e1e1e" stroke="#1e1e1e" stroke-width="0.12" ><tspan>180 °C after 30 mins</tspan></text>
<path d="M495.8,335.5 C496.47,335.3 498.33,334.4 499.8,334.3 C501.27,334.2 503,335.4 504.6,334.9 C506.2,334.4 507.8,331.6 509.4,331.3 C511,331 512.6,333.9 514.2,333.1 C515.8,332.3 517.42,328.1 519,326.5 C520.58,324.9 522.12,326.1 523.7,323.5 C525.28,320.9 526.9,313.8 528.5,310.9 C530.1,308 532,308.48 533.3,306.1 C534.6,303.72 535.62,301.02 536.3,296.6 C536.98,292.18 536.68,288.67 537.4,279.6 C538.12,270.53 539.42,251.87 540.6,242.2 C541.78,232.53 543.17,221.6 544.5,221.6 C545.83,221.6 547.35,232.53 548.6,242.2 C549.85,251.87 551.15,268.15 552,279.6 C552.85,291.05 553.02,304.78 553.7,310.9 C554.38,317.02 555.2,315.8 556.1,316.3 C557,316.8 557.9,313.4 559.1,313.9 C560.3,314.4 561.8,317.3 563.3,319.3 C564.8,321.3 566.98,325.32 568.1,325.9 C569.22,326.48 568.42,324.72 570,322.8 C571.58,320.88 574.8,314.82 577.6,314.4 C580.4,313.98 584.15,318.47 586.8,320.3 C589.45,322.13 591.27,324.83 593.5,325.4 C595.73,325.97 597.97,323 600.2,323.7 C602.43,324.4 604.67,327.78 606.9,329.6 C609.13,331.42 610.52,333.77 613.6,334.6 C616.68,335.43 622.32,335.43 625.4,334.6 C628.48,333.77 629.87,329.6 632.1,329.6 C634.33,329.6 636.42,334.68 638.8,334.6 C641.18,334.52 643.88,329.23 646.4,329.1 C648.92,328.97 650.13,333.58 653.9,333.8 C657.67,334.02 665.15,330.35 669,330.4 C672.85,330.45 675.67,333.48 677,334.1" fill="none" stroke="#454545" stroke-width="1.1" stroke-linejoin="round" stroke-linecap="round" />
<path d="M495.8,335.8 C497.27,335.65 501.73,335.35 504.6,334.9 C507.47,334.45 510.6,334.1 513,333.1 C515.4,332.1 516.82,330.4 519,328.9 C521.18,327.4 523.72,326.5 526.1,324.1 C528.48,321.7 531.3,318.68 533.3,314.5 C535.3,310.32 536.98,304.82 538.1,299 C539.22,293.18 539.27,284.43 540,279.6 C540.73,274.77 541.75,271.93 542.5,270 C543.25,268.07 543.83,268 544.5,268 C545.17,268 545.75,268.07 546.5,270 C547.25,271.93 548,273.78 549,279.6 C550,285.42 551.52,299.28 552.5,304.9 C553.48,310.52 553.9,312 554.9,313.3 C555.9,314.6 556.9,311.4 558.5,312.7 C560.1,314 562.9,319.9 564.5,321.1 C566.1,322.3 566.92,319.6 568.1,319.9 C569.28,320.2 570.45,324.22 571.6,322.9 C572.75,321.58 573.58,314.95 575,312 C576.42,309.05 578.55,305.22 580.1,305.2 C581.65,305.18 582.63,307.83 584.3,311.9 C585.97,315.97 588.28,327.63 590.1,329.6 C591.92,331.57 593.37,323.98 595.2,323.7 C597.03,323.42 599.15,326.92 601.1,327.9 C603.05,328.88 604.82,328.77 606.9,329.6 C608.98,330.43 611.35,332.35 613.6,332.9 C615.85,333.45 617.6,333.65 620.4,332.9 C623.2,332.15 627.62,328.4 630.4,328.4 C633.18,328.4 635.42,331.78 637.1,332.9 C638.78,334.02 638.53,336.22 640.5,335.1 C642.47,333.98 645.82,326.93 648.9,326.2 C651.98,325.47 655.37,329.58 659,330.7 C662.63,331.82 667.7,332.33 670.7,332.9 C673.7,333.47 675.95,333.9 677,334.1" fill="none" stroke="#eb3a3a" stroke-width="1.1" stroke-linejoin="round" stroke-linecap="round" />
<path d="M495.8,336.1 C497.67,335.9 503.53,335.4 507,334.9 C510.47,334.4 513.82,334.3 516.6,333.1 C519.38,331.9 521.32,329.4 523.7,327.7 C526.08,326 528.9,325.7 530.9,322.9 C532.9,320.1 534.1,316.28 535.7,310.9 C537.3,305.52 539.1,295.78 540.5,290.6 C541.9,285.42 542.9,280.8 544.1,279.8 C545.3,278.8 546.5,281.02 547.7,284.6 C548.9,288.18 550.1,296.02 551.3,301.3 C552.5,306.58 553.5,314.3 554.9,316.3 C556.3,318.3 558.1,312.8 559.7,313.3 C561.3,313.8 562.78,316.45 564.5,319.3 C566.22,322.15 568.67,327.85 570,330.4 C571.33,332.95 570.53,336.78 572.5,334.6 C574.47,332.42 579.55,319.27 581.8,317.3 C584.05,315.33 584.62,319.92 586,322.8 C587.38,325.68 588.28,334.03 590.1,334.6 C591.92,335.17 594.65,327.03 596.9,326.2 C599.15,325.37 601.08,328.2 603.6,329.6 C606.12,331 609.2,333.9 612,334.6 C614.8,335.3 617.33,334.63 620.4,333.8 C623.47,332.97 627.47,329.38 630.4,329.6 C633.33,329.82 635.75,334.68 638,335.1 C640.25,335.52 641.8,332.47 643.9,332.1 C646,331.73 648.37,332.48 650.6,332.9 C652.83,333.32 654.5,334.8 657.3,334.6 C660.1,334.4 664.12,331.78 667.4,331.7 C670.68,331.62 675.4,333.7 677,334.1" fill="none" stroke="#2f6de0" stroke-width="1.1" stroke-linejoin="round" stroke-linecap="round" />
<rect x="495.6" y="186.2" width="181.7" height="150.1" fill="none" stroke="#262626" stroke-width="1.2"/>
<line x1="495.6" y1="336.3" x2="493" y2="336.3" stroke="#262626" stroke-width="1" />
<line x1="495.6" y1="309.45" x2="493" y2="309.45" stroke="#262626" stroke-width="1" />
<line x1="495.6" y1="282.6" x2="493" y2="282.6" stroke="#262626" stroke-width="1" />
<line x1="495.6" y1="255.75" x2="493" y2="255.75" stroke="#262626" stroke-width="1" />
<line x1="495.6" y1="228.9" x2="493" y2="228.9" stroke="#262626" stroke-width="1" />
<line x1="495.6" y1="202.05" x2="493" y2="202.05" stroke="#262626" stroke-width="1" />
<line x1="495.6" y1="322.88" x2="494" y2="322.88" stroke="#262626" stroke-width="1" />
<line x1="495.6" y1="296.02" x2="494" y2="296.02" stroke="#262626" stroke-width="1" />
<line x1="495.6" y1="269.18" x2="494" y2="269.18" stroke="#262626" stroke-width="1" />
<line x1="495.6" y1="242.32" x2="494" y2="242.32" stroke="#262626" stroke-width="1" />
<line x1="495.6" y1="215.48" x2="494" y2="215.48" stroke="#262626" stroke-width="1" />
<line x1="495.6" y1="188.62" x2="494" y2="188.62" stroke="#262626" stroke-width="1" />
<text x="479.45" y="338.9" font-size="8.67" fill="#1e1e1e" stroke="#1e1e1e" stroke-width="0.12" ><tspan>0.0</tspan></text>
<text x="479.45" y="312.05" font-size="8.7" fill="#1e1e1e" stroke="#1e1e1e" stroke-width="0.12" ><tspan>0.5</tspan></text>
<text x="479.13" y="285.2" font-size="8.91" fill="#1e1e1e" stroke="#1e1e1e" stroke-width="0.12" ><tspan>1.0</tspan></text>
<text x="479.13" y="258.35" font-size="8.94" fill="#1e1e1e" stroke="#1e1e1e" stroke-width="0.12" ><tspan>1.5</tspan></text>
<text x="479.36" y="231.5" font-size="8.74" fill="#1e1e1e" stroke="#1e1e1e" stroke-width="0.12" ><tspan>2.0</tspan></text>
<text x="479.36" y="204.65" font-size="8.77" fill="#1e1e1e" stroke="#1e1e1e" stroke-width="0.12" ><tspan>2.5</tspan></text>
<line x1="495.7" y1="336.3" x2="495.7" y2="338.9" stroke="#262626" stroke-width="1" />
<line x1="525.97" y1="336.3" x2="525.97" y2="338.9" stroke="#262626" stroke-width="1" />
<line x1="556.24" y1="336.3" x2="556.24" y2="338.9" stroke="#262626" stroke-width="1" />
<line x1="586.51" y1="336.3" x2="586.51" y2="338.9" stroke="#262626" stroke-width="1" />
<line x1="616.78" y1="336.3" x2="616.78" y2="338.9" stroke="#262626" stroke-width="1" />
<line x1="647.05" y1="336.3" x2="647.05" y2="338.9" stroke="#262626" stroke-width="1" />
<line x1="677.32" y1="336.3" x2="677.32" y2="338.9" stroke="#262626" stroke-width="1" />
<line x1="510.83" y1="336.3" x2="510.83" y2="337.9" stroke="#262626" stroke-width="1" />
<line x1="541.11" y1="336.3" x2="541.11" y2="337.9" stroke="#262626" stroke-width="1" />
<line x1="571.38" y1="336.3" x2="571.38" y2="337.9" stroke="#262626" stroke-width="1" />
<line x1="601.64" y1="336.3" x2="601.64" y2="337.9" stroke="#262626" stroke-width="1" />
<line x1="631.91" y1="336.3" x2="631.91" y2="337.9" stroke="#262626" stroke-width="1" />
<line x1="662.18" y1="336.3" x2="662.18" y2="337.9" stroke="#262626" stroke-width="1" />
<text x="495.7" y="346.8" font-size="8.7" fill="#1e1e1e" stroke="#1e1e1e" stroke-width="0.12" text-anchor="middle">0</text>
<text x="525.97" y="346.8" font-size="8.7" fill="#1e1e1e" stroke="#1e1e1e" stroke-width="0.12" text-anchor="middle">1</text>
<text x="556.24" y="346.8" font-size="8.7" fill="#1e1e1e" stroke="#1e1e1e" stroke-width="0.12" text-anchor="middle">2</text>
<text x="586.51" y="346.8" font-size="8.7" fill="#1e1e1e" stroke="#1e1e1e" stroke-width="0.12" text-anchor="middle">3</text>
<text x="616.78" y="346.8" font-size="8.7" fill="#1e1e1e" stroke="#1e1e1e" stroke-width="0.12" text-anchor="middle">4</text>
<text x="647.05" y="346.8" font-size="8.7" fill="#1e1e1e" stroke="#1e1e1e" stroke-width="0.12" text-anchor="middle">5</text>
<text x="677.32" y="346.8" font-size="8.7" fill="#1e1e1e" stroke="#1e1e1e" stroke-width="0.12" text-anchor="middle">6</text>
<text x="576.45" y="357.7" font-size="9.36" fill="#1e1e1e" stroke="#1e1e1e" stroke-width="0.12" ><tspan>R (Å)</tspan></text>
<text x="0" y="0" font-size="9.52" fill="#1e1e1e" stroke="#1e1e1e" stroke-width="0.12" transform="translate(475.2 278.3) rotate(-90)"><tspan x="-0.86"><tspan>|X(R)| (Å</tspan><tspan font-size="6.19" dy="-3.62">-3</tspan><tspan dy="3.62">)</tspan></tspan></text>
<text x="462.82" y="199" font-size="18.05" fill="#111" stroke="#111" stroke-width="0.12" ><tspan>(f)</tspan></text>
<text x="501.85" y="202.3" font-size="9.41" fill="#1e1e1e" stroke="#1e1e1e" stroke-width="0.12" ><tspan>Pt/CeO</tspan><tspan font-size="6.11" dy="2.35">2</tspan></text>
<text x="535.47" y="218.8" font-size="7.82" fill="#1e1e1e" stroke="#1e1e1e" stroke-width="0.12" ><tspan>Pt-O</tspan></text>
<line x1="570.5" y1="227.6" x2="588.3" y2="227.6" stroke="#8a8a8a" stroke-width="1.2" />
<line x1="570.5" y1="237.9" x2="588.3" y2="237.9" stroke="#eb3a3a" stroke-width="1.2" />
<line x1="570.5" y1="250" x2="588.3" y2="250" stroke="#2f6de0" stroke-width="1.2" />
<text x="590.59" y="230.8" font-size="8.3" fill="#1e1e1e" stroke="#1e1e1e" stroke-width="0.12" ><tspan>25 °C in air</tspan></text>
<text x="590.59" y="241.1" font-size="8.3" fill="#1e1e1e" stroke="#1e1e1e" stroke-width="0.12" ><tspan>25 °C in CO + O</tspan><tspan font-size="5.39" dy="2.07">2</tspan></text>
<text x="590.58" y="253" font-size="8.3" fill="#1e1e1e" stroke="#1e1e1e" stroke-width="0.12" ><tspan>180 °C in CO + O</tspan><tspan font-size="5.39" dy="2.07">2</tspan></text>
<path d="M35.8,519 C38.27,518.48 45.65,517.58 50.6,515.9 C55.55,514.22 61.83,511.9 65.5,508.9 C69.17,505.9 70.63,502.87 72.6,497.9 C74.57,492.93 76,488.75 77.3,479.1 C78.6,469.45 79.53,449.85 80.4,440 C81.27,430.15 81.8,424.53 82.5,420 C83.2,415.47 83.9,412.8 84.6,412.8 C85.3,412.8 85.97,415.47 86.7,420 C87.43,424.53 87.97,429.1 89,440 C90.03,450.9 91.85,475.23 92.9,485.4 C93.95,495.57 94,498.78 95.3,501 C96.6,503.22 98.48,497.65 100.7,498.7 C102.92,499.75 106.25,505.35 108.6,507.3 C110.95,509.25 112.98,512.35 114.8,510.4 C116.62,508.45 117.87,496.97 119.5,495.6 C121.13,494.23 122.85,498.8 124.6,502.2 C126.35,505.6 127.83,515.48 130,516 C132.17,516.52 135.18,505.93 137.6,505.3 C140.02,504.67 142.32,510.55 144.5,512.2 C146.68,513.85 148.78,514.07 150.7,515.2 C152.62,516.33 154.08,519.07 156,519 C157.92,518.93 160.28,514.85 162.2,514.8 C164.12,514.75 165.6,518.5 167.5,518.7 C169.4,518.9 171.55,516.07 173.6,516 C175.65,515.93 177.75,519.07 179.8,518.3 C181.85,517.53 183.87,511.65 185.9,511.4 C187.93,511.15 189.95,516.03 192,516.8 C194.05,517.57 195.52,516.27 198.2,516 C200.88,515.73 204.93,514.9 208.1,515.2 C211.27,515.5 215.68,517.37 217.2,517.8" fill="none" stroke="#454545" stroke-width="1.1" stroke-linejoin="round" stroke-linecap="round" />
<path d="M35.8,519 C37.23,518.75 41.93,518.2 44.4,517.5 C46.87,516.8 48.78,515.07 50.6,514.8 C52.42,514.53 53.6,517.02 55.3,515.9 C57,514.78 59.1,509.27 60.8,508.1 C62.5,506.93 63.8,510.33 65.5,508.9 C67.2,507.47 69.3,503.93 71,499.5 C72.7,495.07 74.27,489.62 75.7,482.3 C77.13,474.98 78.68,462.65 79.6,455.6 C80.52,448.55 80.75,444.27 81.2,440 C81.65,435.73 81.83,432.92 82.3,430 C82.77,427.08 83.42,422.83 84,422.5 C84.58,422.17 84.97,425.08 85.8,428 C86.63,430.92 87.82,430.95 89,440 C90.18,449.05 91.47,474.47 92.9,482.3 C94.33,490.13 96.03,481.4 97.6,487 C99.17,492.6 100.6,514.6 102.3,515.9 C104,517.2 105.98,494.28 107.8,494.8 C109.62,495.32 111.12,519.92 113.2,519 C115.28,518.08 118.78,493.63 120.3,489.3 C121.82,484.97 121.07,488.42 122.3,493 C123.53,497.58 125.92,515.27 127.7,516.8 C129.48,518.33 131.22,503.62 133,502.2 C134.78,500.78 136.48,507.15 138.4,508.3 C140.32,509.45 142.45,507.95 144.5,509.1 C146.55,510.25 148.65,513.55 150.7,515.2 C152.75,516.85 154.77,518.62 156.8,519 C158.83,519.38 160.35,518.25 162.9,517.5 C165.45,516.75 169.03,514.5 172.1,514.5 C175.17,514.5 178.75,517.38 181.3,517.5 C183.85,517.62 184.85,515 187.4,515.2 C189.95,515.4 193.53,518.18 196.6,518.7 C199.67,519.22 202.37,518.37 205.8,518.3 C209.23,518.23 215.3,518.3 217.2,518.3" fill="none" stroke="#eb3a3a" stroke-width="1.1" stroke-linejoin="round" stroke-linecap="round" />
<path d="M35.8,519.5 C37.75,519.03 44.25,517.3 47.5,516.7 C50.75,516.1 52.95,516.95 55.3,515.9 C57.65,514.85 59.5,511.97 61.6,510.4 C63.7,508.83 65.82,509.63 67.9,506.5 C69.98,503.37 72.15,498.77 74.1,491.6 C76.05,484.43 78.2,470.43 79.6,463.5 C81,456.57 81.63,452.92 82.5,450 C83.37,447.08 84.05,446 84.8,446 C85.55,446 86.3,448.13 87,450 C87.7,451.87 88.15,451.3 89,457.2 C89.85,463.1 91.18,477.97 92.1,485.4 C93.02,492.83 93.32,500.63 94.5,501.8 C95.68,502.97 97.12,490.7 99.2,492.4 C101.28,494.1 104.92,509.13 107,512 C109.08,514.87 110.4,509.6 111.7,509.6 C113,509.6 113.42,513.87 114.8,512 C116.18,510.13 118.37,499.78 120,498.4 C121.63,497.02 122.93,500.38 124.6,503.7 C126.27,507.02 128.22,517.78 130,518.3 C131.78,518.82 133.13,507.32 135.3,506.8 C137.47,506.28 140.43,513.67 143,515.2 C145.57,516.73 148.65,515.37 150.7,516 C152.75,516.63 152.75,518.7 155.3,519 C157.85,519.3 162.68,518.3 166,517.8 C169.32,517.3 171.63,516.35 175.2,516 C178.77,515.65 183.83,515.32 187.4,515.7 C190.97,516.08 193.53,517.8 196.6,518.3 C199.67,518.8 202.37,518.58 205.8,518.7 C209.23,518.82 215.3,518.95 217.2,519" fill="none" stroke="#2f6de0" stroke-width="1.1" stroke-linejoin="round" stroke-linecap="round" />
<rect x="35.5" y="368.1" width="182.1" height="151.6" fill="none" stroke="#262626" stroke-width="1.2"/>
<line x1="35.5" y1="519.5" x2="32.9" y2="519.5" stroke="#262626" stroke-width="1" />
<line x1="35.5" y1="492.5" x2="32.9" y2="492.5" stroke="#262626" stroke-width="1" />
<line x1="35.5" y1="465.5" x2="32.9" y2="465.5" stroke="#262626" stroke-width="1" />
<line x1="35.5" y1="438.5" x2="32.9" y2="438.5" stroke="#262626" stroke-width="1" />
<line x1="35.5" y1="411.5" x2="32.9" y2="411.5" stroke="#262626" stroke-width="1" />
<line x1="35.5" y1="384.5" x2="32.9" y2="384.5" stroke="#262626" stroke-width="1" />
<line x1="35.5" y1="506" x2="33.9" y2="506" stroke="#262626" stroke-width="1" />
<line x1="35.5" y1="479" x2="33.9" y2="479" stroke="#262626" stroke-width="1" />
<line x1="35.5" y1="452" x2="33.9" y2="452" stroke="#262626" stroke-width="1" />
<line x1="35.5" y1="425" x2="33.9" y2="425" stroke="#262626" stroke-width="1" />
<line x1="35.5" y1="398" x2="33.9" y2="398" stroke="#262626" stroke-width="1" />
<line x1="35.5" y1="371" x2="33.9" y2="371" stroke="#262626" stroke-width="1" />
<text x="19.04" y="522.4" font-size="8.97" fill="#1e1e1e" stroke="#1e1e1e" stroke-width="0.12" ><tspan>0.0</tspan></text>
<text x="19.04" y="495.4" font-size="9.01" fill="#1e1e1e" stroke="#1e1e1e" stroke-width="0.12" ><tspan>0.5</tspan></text>
<text x="18.71" y="468.4" font-size="9.22" fill="#1e1e1e" stroke="#1e1e1e" stroke-width="0.12" ><tspan>1.0</tspan></text>
<text x="18.71" y="441.4" font-size="9.25" fill="#1e1e1e" stroke="#1e1e1e" stroke-width="0.12" ><tspan>1.5</tspan></text>
<text x="18.95" y="414.4" font-size="9.04" fill="#1e1e1e" stroke="#1e1e1e" stroke-width="0.12" ><tspan>2.0</tspan></text>
<text x="18.95" y="387.4" font-size="9.08" fill="#1e1e1e" stroke="#1e1e1e" stroke-width="0.12" ><tspan>2.5</tspan></text>
<line x1="35.6" y1="519.7" x2="35.6" y2="522.3" stroke="#262626" stroke-width="1" />
<line x1="65.93" y1="519.7" x2="65.93" y2="522.3" stroke="#262626" stroke-width="1" />
<line x1="96.26" y1="519.7" x2="96.26" y2="522.3" stroke="#262626" stroke-width="1" />
<line x1="126.59" y1="519.7" x2="126.59" y2="522.3" stroke="#262626" stroke-width="1" />
<line x1="156.92" y1="519.7" x2="156.92" y2="522.3" stroke="#262626" stroke-width="1" />
<line x1="187.25" y1="519.7" x2="187.25" y2="522.3" stroke="#262626" stroke-width="1" />
<line x1="217.58" y1="519.7" x2="217.58" y2="522.3" stroke="#262626" stroke-width="1" />
<line x1="50.77" y1="519.7" x2="50.77" y2="521.3" stroke="#262626" stroke-width="1" />
<line x1="81.09" y1="519.7" x2="81.09" y2="521.3" stroke="#262626" stroke-width="1" />
<line x1="111.42" y1="519.7" x2="111.42" y2="521.3" stroke="#262626" stroke-width="1" />
<line x1="141.75" y1="519.7" x2="141.75" y2="521.3" stroke="#262626" stroke-width="1" />
<line x1="172.08" y1="519.7" x2="172.08" y2="521.3" stroke="#262626" stroke-width="1" />
<line x1="202.41" y1="519.7" x2="202.41" y2="521.3" stroke="#262626" stroke-width="1" />
<text x="35.6" y="530.4" font-size="8.7" fill="#1e1e1e" stroke="#1e1e1e" stroke-width="0.12" text-anchor="middle">0</text>
<text x="65.93" y="530.4" font-size="8.7" fill="#1e1e1e" stroke="#1e1e1e" stroke-width="0.12" text-anchor="middle">1</text>
<text x="96.26" y="530.4" font-size="8.7" fill="#1e1e1e" stroke="#1e1e1e" stroke-width="0.12" text-anchor="middle">2</text>
<text x="126.59" y="530.4" font-size="8.7" fill="#1e1e1e" stroke="#1e1e1e" stroke-width="0.12" text-anchor="middle">3</text>
<text x="156.92" y="530.4" font-size="8.7" fill="#1e1e1e" stroke="#1e1e1e" stroke-width="0.12" text-anchor="middle">4</text>
<text x="187.25" y="530.4" font-size="8.7" fill="#1e1e1e" stroke="#1e1e1e" stroke-width="0.12" text-anchor="middle">5</text>
<text x="217.58" y="530.4" font-size="8.7" fill="#1e1e1e" stroke="#1e1e1e" stroke-width="0.12" text-anchor="middle">6</text>
<text x="116.16" y="540.1" font-size="9.22" fill="#1e1e1e" stroke="#1e1e1e" stroke-width="0.12" ><tspan>R (Å)</tspan></text>
<text x="0" y="0" font-size="9.5" fill="#1e1e1e" stroke="#1e1e1e" stroke-width="0.12" transform="translate(14.9 461) rotate(-90)"><tspan x="-0.86"><tspan>|X(R)| (Å</tspan><tspan font-size="6.18" dy="-3.61">-3</tspan><tspan dy="3.61">)</tspan></tspan></text>
<text x="-0.23" y="382" font-size="15.45" fill="#111" stroke="#111" stroke-width="0.12" ><tspan>(g)</tspan></text>
<text x="40.24" y="383" font-size="9.54" fill="#1e1e1e" stroke="#1e1e1e" stroke-width="0.12" ><tspan>Pt</tspan><tspan font-size="6.2" dy="2.39">AT</tspan><tspan dy="-2.39">CeO</tspan><tspan font-size="6.2" dy="2.39">2</tspan></text>
<text x="75.27" y="407.2" font-size="7.82" fill="#1e1e1e" stroke="#1e1e1e" stroke-width="0.12" ><tspan>Pt-O</tspan></text>
<line x1="110.8" y1="410.4" x2="128.4" y2="410.4" stroke="#8a8a8a" stroke-width="1.2" />
<line x1="110.8" y1="420.6" x2="128.4" y2="420.6" stroke="#eb3a3a" stroke-width="1.2" />
<line x1="110.8" y1="432.6" x2="128.4" y2="432.6" stroke="#2f6de0" stroke-width="1.2" />
<text x="130.69" y="412.8" font-size="8.21" fill="#1e1e1e" stroke="#1e1e1e" stroke-width="0.12" ><tspan>25 °C in air</tspan></text>
<text x="130.69" y="423.4" font-size="8.21" fill="#1e1e1e" stroke="#1e1e1e" stroke-width="0.12" ><tspan>25 °C in CO + O</tspan><tspan font-size="5.34" dy="2.05">2</tspan></text>
<text x="130.98" y="435.5" font-size="8.21" fill="#1e1e1e" stroke="#1e1e1e" stroke-width="0.12" ><tspan>180 °C in CO + O</tspan><tspan font-size="5.34" dy="2.05">2</tspan></text>
<path d="M269.6,485.34 L270.18,485.16 L270.86,485.41 L271.63,485.12 L272.5,484.97 L273.44,485.25 L274.44,485.7 L275.51,485.51 L276.63,485.4 L277.78,484.78 L278.97,485.02 L280.18,484.68 L281.41,484.49 L282.63,484.34 L283.86,484.36 L285.06,484.98 L286.25,484.79 L287.4,484.68 L288.51,484.58 L289.57,483.88 L290.57,483.9 L291.5,484.13 L292.74,484.11 L293.94,484.12 L295.12,484.04 L296.27,483.15 L297.4,483.57 L298.49,483.53 L299.56,483.26 L300.6,482.81 L301.61,482.97 L302.59,482.44 L303.55,483.11 L304.48,482.84 L305.38,482.3 L306.25,481.79 L307.1,482.11 L308.19,481.3 L309.21,481.07 L310.15,480.43 L311.04,479.44 L311.88,478.66 L312.68,478.14 L313.46,477.25 L314.22,476.26 L314.97,475.71 L315.73,475.54 L316.5,474.14 L317.43,473.39 L318.31,473.2 L319.16,472.08 L319.99,471.56 L320.81,470.76 L321.64,469.94 L322.49,469.95 L323.37,468.58 L324.3,468.31 L325.27,467.73 L326.25,467.9 L327.26,467.36 L328.28,467.31 L329.32,467.61 L330.39,467.09 L331.47,467.23 L332.58,467.42 L333.7,466.4 L334.64,466.11 L335.6,465.96 L336.59,466.14 L337.59,465.6 L338.6,464.84 L339.62,464.55 L340.64,464.05 L341.66,464.04 L342.68,463.4 L343.7,463.92 L344.7,464.1 L345.71,464.27 L346.74,464.3 L347.78,464.89 L348.83,464.38 L349.87,465.14 L350.9,466.32 L351.91,466.62 L352.9,466.7 L353.84,467.62 L354.75,467.57 L355.6,467.92 L356.8,467.38 L357.86,467.04 L358.83,466.91 L359.75,466.14 L360.69,465.91 L361.69,466.07 L362.8,465.13 L363.76,464.67 L364.77,464.61 L365.83,464.68 L366.91,465.26 L368.01,464.8 L369.1,464.68 L370.18,464.41 L371.21,465.17 L372.2,464.42 L373.26,463.93 L374.28,463.44 L375.27,463.06 L376.24,462.76 L377.2,462.83 L378.14,461.86 L379.07,461.29 L380,461.29 L380.93,460.54 L381.86,460.69 L382.78,459.17 L383.69,458.94 L384.59,458.6 L385.45,457.75 L386.29,458.01 L387.1,457.38 L388.06,457.23 L388.91,457.68 L389.71,457.81 L390.54,458.94 L391.48,459.76 L392.6,461.69 L393.08,462.22 L393.59,462.56 L394.12,462.84 L394.68,463.88 L395.25,464.74 L395.84,465.61 L396.45,466.58 L397.06,468.17 L397.68,468.4 L398.31,469.26 L398.94,471.07 L399.57,471.61 L400.19,472.9 L400.8,473.11 L401.41,474.34 L402,474.75 L402.83,475.74 L403.63,476.47 L404.41,476.93 L405.19,477.18 L405.96,477.89 L406.75,479.1 L407.57,479.62 L408.42,480.11 L409.32,479.95 L410.27,480.67 L411.3,481.2 L412.14,481.32 L412.99,481.74 L413.85,481.67 L414.72,481.99 L415.62,482.19 L416.55,481.92 L417.5,482.7 L418.49,482.84 L419.52,482.06 L420.59,483.05 L421.71,483.12 L422.88,482.91 L424.11,482.36 L425.4,483.3 L426.28,482.58 L427.24,483.46 L428.26,483.2 L429.34,482.62 L430.46,482.76 L431.63,483.25 L432.83,483.2 L434.04,483.39 L435.27,483.59 L436.5,482.89 L437.73,482.68 L438.94,483.6 L440.13,482.7 L441.29,483.56 L442.4,482.8 L443.47,483.5 L444.47,483.47 L445.41,483.56 L446.27,483.24 L447.05,483.57 L447.72,482.9 L448.3,483.37" fill="none" stroke="#4fae6d" stroke-width="1.1" stroke-linejoin="round" />
<path d="M269.6,479.04 L270.17,479.36 L270.84,479.21 L271.61,479.47 L272.45,479.53 L273.37,479 L274.35,478.99 L275.39,479.86 L276.48,479.33 L277.62,479.34 L278.78,480.15 L279.97,479.67 L281.18,480.07 L282.4,479.75 L283.62,479.94 L284.83,479.48 L286.03,479.98 L287.2,480.22 L288.34,479.88 L289.45,480.09 L290.5,480 L291.5,479.36 L292.64,480.01 L293.79,479.79 L294.94,479.43 L296.1,479.09 L297.25,479.84 L298.4,479.36 L299.54,479.51 L300.67,479.57 L301.78,479.29 L302.87,479.38 L303.93,478.73 L304.96,479 L305.96,478.51 L306.92,478.86 L307.84,478.65 L308.71,477.72 L309.53,477.6 L310.3,477.52 L311.8,477.91 L313.02,477.04 L314.03,476.88 L314.89,476.16 L315.66,475.91 L316.41,475.25 L317.2,474.55 L318.1,473.99 L318.75,473.36 L319.4,472.98 L320.05,471.99 L320.7,471.43 L321.35,470.49 L322,469.73 L322.65,468.5 L323.3,467.06 L323.95,466.81 L324.6,465.98 L325.25,465 L325.9,463.77 L326.5,463.09 L327.08,461.74 L327.67,461.5 L328.25,460.37 L328.83,459.2 L329.41,458.1 L329.99,458.02 L330.58,457.28 L331.18,455.52 L331.79,455.39 L332.41,454.18 L333.05,453.12 L333.7,452.49 L334.44,452.14 L335.23,451.38 L336.05,449.69 L336.89,449.39 L337.74,447.97 L338.59,447.83 L339.44,446.67 L340.26,446.5 L341.04,445.96 L341.79,444.92 L342.48,444.95 L343.1,443.91 L344.57,443.14 L345.64,443.78 L346.62,443.94 L347.8,445.4 L348.27,446.2 L348.77,447.12 L349.28,447.5 L349.81,448.3 L350.35,450.1 L350.89,450.57 L351.44,452.26 L351.99,453.24 L352.54,453.75 L353.07,454.81 L353.59,455.79 L354.1,456.74 L354.76,457.75 L355.41,458.78 L356.05,459.9 L356.69,461.23 L357.31,461.76 L357.93,462.55 L358.53,463.61 L359.12,463.76 L359.7,464.3 L360.9,465.48 L362.01,464.91 L363.14,464.43 L364.4,463.21 L365.19,463.26 L366.01,463.09 L366.86,462.13 L367.75,462.21 L368.66,461.5 L369.61,459.92 L370.6,459.13 L371,458.31 L371.4,457.77 L371.81,456.61 L372.23,456.06 L372.65,455.13 L373.08,453.4 L373.52,452.38 L373.96,451.92 L374.4,451.11 L374.85,449.29 L375.3,448.4 L375.75,447.45 L376.21,446.12 L376.66,445.15 L377.12,444.13 L377.58,443.27 L378.04,442.66 L378.5,441.6 L379.2,440.62 L379.94,440.01 L380.69,438.3 L381.46,437.93 L382.23,437.25 L383,436.04 L383.76,435.24 L384.5,435.19 L385.21,434.06 L385.88,433.54 L386.52,433.41 L387.1,433.4 L388.28,432.47 L389.22,432.81 L390.05,433.42 L390.87,435.02 L391.8,436.24 L392.12,437.29 L392.44,437.31 L392.77,438.26 L393.1,439.42 L393.44,440.56 L393.77,441.08 L394.11,441.86 L394.46,442.8 L394.8,444.27 L395.15,445.03 L395.5,446.76 L395.86,447.91 L396.21,448.37 L396.57,449.59 L396.94,451.22 L397.3,452.14 L397.61,453.23 L397.91,453.73 L398.21,454.52 L398.5,455.7 L398.8,457.25 L399.1,457.78 L399.4,458.93 L399.7,460.07 L400,461.15 L400.31,462.2 L400.63,463.77 L400.95,464.04 L401.28,464.91 L401.62,466.83 L401.97,467.72 L402.33,468.74 L402.71,469.06 L403.1,470.39 L403.5,471.13 L404.11,471.46 L404.74,472.95 L405.39,473.96 L406.05,474.63 L406.74,475.28 L407.45,475.79 L408.17,476.53 L408.91,477.05 L409.67,477.47 L410.45,478.53 L411.25,478.72 L412.07,479.7 L412.9,479.35 L413.8,480.58 L414.68,480.65 L415.56,481.09 L416.45,481.2 L417.36,481.28 L418.31,481 L419.3,480.44 L420.35,481.16 L421.47,480.56 L422.68,480.67 L423.98,481.04 L425.4,480.92 L426.25,480.84 L427.18,481.38 L428.18,481.07 L429.24,480.81 L430.36,480.73 L431.51,481.34 L432.71,480.96 L433.93,481.26 L435.16,480.83 L436.4,480.67 L437.63,481 L438.85,481.28 L440.05,480.63 L441.22,481.24 L442.35,481.36 L443.42,481.24 L444.44,481.25 L445.39,480.42 L446.26,481.04 L447.04,481.27 L447.72,480.45 L448.3,480.67" fill="none" stroke="#2f6de0" stroke-width="1.1" stroke-linejoin="round" />
<path d="M269.6,462.56 L270.17,462.59 L270.84,461.76 L271.59,461.85 L272.43,462.68 L273.34,462.66 L274.31,462.68 L275.34,462.41 L276.42,462.81 L277.54,462.91 L278.69,462.98 L279.88,462.66 L281.08,463.03 L282.29,463.09 L283.51,463.51 L284.72,463.87 L285.92,463.9 L287.11,463.57 L288.26,463.53 L289.39,463.4 L290.47,463.21 L291.5,463.23 L292.57,463.68 L293.65,463.55 L294.75,463.62 L295.86,464.13 L296.98,463.77 L298.1,463.79 L299.22,463.46 L300.34,463.23 L301.44,463.5 L302.53,463.28 L303.6,463.61 L304.66,464.06 L305.68,463.68 L306.68,463.13 L307.64,463.77 L308.57,463.59 L309.45,463.45 L310.28,463.52 L311.07,463.28 L311.8,463.19 L313.37,462.44 L314.63,462.7 L315.64,462.26 L316.48,461 L317.22,461.08 L317.94,460.48 L318.71,459.62 L319.6,459.03 L320.39,458.44 L321.18,458.33 L321.97,457.33 L322.76,457.06 L323.55,455.95 L324.34,455.79 L325.13,455.07 L325.92,453.82 L326.71,453.04 L327.5,452.42 L328.02,451.5 L328.55,450.47 L329.07,449.35 L329.59,448.54 L330.11,447.97 L330.63,446.46 L331.15,446.21 L331.67,444.57 L332.18,444.22 L332.7,442.64 L333.22,442.34 L333.74,441.18 L334.26,440.12 L334.78,439.34 L335.3,438.75 L336.09,437.71 L336.91,436.54 L337.74,435.61 L338.57,435.16 L339.39,434.89 L340.2,433.94 L340.99,432.79 L341.74,432.97 L342.45,432.34 L343.1,432.01 L344.24,430.27 L345.2,429.88 L346.07,428.44 L346.91,428.62 L347.8,428.27 L348.46,428.57 L349.1,429.78 L349.73,429.78 L350.37,431.13 L351.04,432.54 L351.74,433.14 L352.5,434.41 L352.91,435.8 L353.34,436.16 L353.79,437.35 L354.25,437.62 L354.73,438.95 L355.21,439.78 L355.69,441.32 L356.18,441.76 L356.65,443.63 L357.12,443.67 L357.57,445.29 L358.01,445.42 L358.42,446.41 L358.8,447.61 L359.71,448.37 L360.46,449.4 L361.14,450.59 L361.89,450.75 L362.8,450.74 L363.72,451.89 L364.73,451.14 L365.81,450.97 L366.92,451.09 L368.03,451.02 L369.1,450.64 L369.87,449.56 L370.64,449.3 L371.39,448.45 L372.15,448.22 L372.91,447.77 L373.69,446.81 L374.48,445.85 L375.3,444.36 L375.67,443.76 L376.06,442.81 L376.45,441.71 L376.85,440.53 L377.25,439.97 L377.66,438.59 L378.07,437.3 L378.48,436.55 L378.89,435.87 L379.3,434.02 L379.71,433.39 L380.12,432.12 L380.52,431.21 L380.91,429.84 L381.3,429.72 L381.68,428.15 L382.04,427.71 L382.4,426.82 L383.18,425.08 L383.94,424.52 L384.68,423.2 L385.39,422.37 L386.08,421.72 L386.72,421.29 L387.33,420.71 L387.9,420.74 L389.03,418.89 L389.9,418.09 L391.1,418.83 L391.39,419.37 L391.69,419.22 L392.01,420.14 L392.35,420.76 L392.7,422 L393.07,423 L393.44,424.2 L393.82,425.19 L394.21,425.85 L394.6,427.15 L394.99,428.39 L395.38,429.01 L395.78,430.16 L396.17,431.63 L396.55,432.38 L396.93,433.99 L397.3,434.44 L397.71,435.31 L398.11,436.4 L398.51,437.44 L398.91,438.42 L399.31,439.7 L399.7,440.61 L400.1,441.42 L400.5,442.7 L400.9,443.2 L401.31,444.82 L401.73,445.78 L402.16,446.44 L402.59,447.03 L403.04,447.97 L403.5,448.88 L404.04,449.32 L404.6,450.65 L405.16,451.72 L405.73,452.33 L406.31,453.17 L406.9,454.79 L407.5,455.24 L408.11,456.25 L408.73,457.46 L409.36,457.92 L410,458.32 L410.64,459.68 L411.3,459.67 L412.16,460.01 L413.03,461.28 L413.9,461.22 L414.8,461.86 L415.71,462.78 L416.64,462.93 L417.6,462.56 L418.6,463.23 L419.63,463.41 L420.7,463.69 L421.62,463.54 L422.57,464 L423.55,463.51 L424.54,463.71 L425.56,463.77 L426.59,464.28 L427.65,463.36 L428.73,463.98 L429.82,463.37 L430.93,463.72 L432.06,463.55 L433.2,463.66 L434.16,464.02 L435.2,463.74 L436.3,463.56 L437.43,463.68 L438.6,463.75 L439.78,464.65 L440.95,464.57 L442.1,465.03 L443.22,464.89 L444.29,464.35 L445.29,465.11 L446.2,465.33 L447.02,465.38 L447.73,465.23 L448.3,465.16" fill="none" stroke="#eb3a3a" stroke-width="1.1" stroke-linejoin="round" />
<path d="M269.6,457.83 L270.17,458.55 L270.84,458.46 L271.59,457.95 L272.43,458.18 L273.34,458.13 L274.31,458.33 L275.34,458.46 L276.42,457.76 L277.54,457.69 L278.69,458.49 L279.88,458.08 L281.08,458.41 L282.29,457.64 L283.51,458.09 L284.72,458.36 L285.92,457.87 L287.11,458.6 L288.26,458.56 L289.39,457.7 L290.47,457.71 L291.5,458.24 L292.57,458.67 L293.65,458.15 L294.75,458.04 L295.86,458.31 L296.98,457.98 L298.1,458.25 L299.22,458.55 L300.34,458.68 L301.44,458.5 L302.53,458.57 L303.6,458.63 L304.66,458.94 L305.68,458.83 L306.68,458.6 L307.64,459.45 L308.57,459.18 L309.45,459.27 L310.28,458.79 L311.07,459.56 L311.8,459.36 L313.37,458.38 L314.63,458.28 L315.64,458.27 L316.48,457.8 L317.22,457.49 L317.94,456.38 L318.71,456.14 L319.6,455.27 L320.32,454.37 L321.05,454.11 L321.79,453.85 L322.54,453.23 L323.28,452.27 L324.02,451.69 L324.75,450.42 L325.47,449.85 L326.17,449.55 L326.85,448.23 L327.5,446.97 L327.93,446.58 L328.36,445.9 L328.77,444.97 L329.17,443.73 L329.56,442.81 L329.95,441.86 L330.32,441.08 L330.7,439.76 L331.07,438.57 L331.44,437.59 L331.81,436.06 L332.18,435.03 L332.56,434.66 L332.93,433.95 L333.31,432.6 L333.7,431.49 L334.19,430.18 L334.68,429.42 L335.18,428.82 L335.68,427.53 L336.19,426.24 L336.69,425.53 L337.19,423.9 L337.69,423.21 L338.18,422.72 L338.65,421.46 L339.12,420.52 L339.57,419.57 L340,419.15 L340.88,418.23 L341.69,416.17 L342.45,416.06 L343.19,415.42 L343.94,415.03 L344.7,414.64 L345.62,414.68 L346.51,414.65 L347.41,415.27 L348.36,416.08 L349.4,417.06 L349.83,418.53 L350.28,418.99 L350.74,419.47 L351.21,420.71 L351.7,421.68 L352.19,422.58 L352.69,423.64 L353.18,424.91 L353.68,426.08 L354.17,427.14 L354.66,428.02 L355.14,428.59 L355.6,429.73 L356.1,430.67 L356.6,432.08 L357.1,433.36 L357.6,434.31 L358.1,435.31 L358.59,436.3 L359.08,436.69 L359.55,438.2 L360.01,438.9 L360.46,439.13 L360.89,439.83 L361.3,440.51 L362.04,442.5 L362.68,443.1 L363.27,443.89 L363.86,445.13 L364.48,445.33 L365.2,445.27 L366,445.35 L366.86,445.53 L367.75,444.74 L368.68,444.12 L369.63,443.49 L370.6,441.75 L370.95,440.97 L371.3,440.39 L371.67,439.11 L372.04,438.59 L372.41,437.67 L372.79,436.43 L373.17,435.31 L373.55,435.03 L373.94,433.55 L374.32,432.15 L374.7,431.44 L375.08,430.56 L375.45,428.69 L375.82,427.65 L376.19,426.78 L376.55,426.41 L376.9,424.96 L377.35,424.41 L377.79,423.35 L378.23,422.21 L378.66,420.92 L379.09,420.73 L379.51,419.62 L379.93,418.43 L380.34,417.23 L380.76,416.74 L381.17,415.57 L381.58,414.82 L381.99,413.61 L382.4,412.93 L382.78,411.37 L383.16,410.52 L383.54,410.02 L383.91,408.71 L384.29,406.91 L384.66,406.23 L385.03,404.47 L385.4,403.95 L385.77,402.69 L386.14,401.39 L386.5,400.4 L386.87,399.48 L387.24,399.86 L387.6,398.74 L388.11,399.47 L388.62,399.92 L389.12,400.12 L389.63,400.56 L390.13,402.29 L390.63,403.56 L391.13,404.54 L391.62,405.64 L392.11,406.78 L392.6,407.95 L392.94,408.64 L393.27,409.97 L393.6,410.63 L393.92,411.31 L394.24,412.16 L394.56,413.7 L394.88,414.33 L395.2,415.56 L395.52,416.43 L395.86,418.05 L396.2,419.17 L396.55,419.41 L396.92,420.74 L397.3,422.03 L397.59,423.57 L397.88,424.29 L398.18,424.81 L398.48,425.67 L398.78,427.15 L399.09,428.34 L399.41,429.48 L399.72,429.95 L400.04,431.55 L400.37,432.42 L400.7,433.27 L401.03,434.82 L401.37,435.1 L401.72,436.61 L402.06,436.96 L402.42,438 L402.77,439.67 L403.13,439.87 L403.5,441.26 L404,442.2 L404.52,443.52 L405.04,444.09 L405.57,445.07 L406.1,446.01 L406.65,447.53 L407.2,448.19 L407.76,449.42 L408.33,450.2 L408.91,450.26 L409.49,451.45 L410.09,451.74 L410.69,452.38 L411.3,453.07 L412.16,454.72 L413.03,455.39 L413.9,456.1 L414.8,456.21 L415.71,457.02 L416.64,457.67 L417.6,457.71 L418.6,458.31 L419.63,458.35 L420.7,458.58 L421.62,459.06 L422.57,459.95 L423.55,459.87 L424.54,460.44 L425.56,460.16 L426.59,460.15 L427.65,460.8 L428.73,460.97 L429.82,460.26 L430.93,461.02 L432.06,460.52 L433.2,460.62 L434.16,461.43 L435.2,460.6 L436.3,460.81 L437.43,461.54 L438.6,460.95 L439.78,460.61 L440.95,460.62 L442.1,460.64 L443.22,461.09 L444.29,460.4 L445.29,461.15 L446.2,460.57 L447.02,461.12 L447.73,461.03 L448.3,460.39" fill="none" stroke="#454545" stroke-width="1.1" stroke-linejoin="round" />
<line x1="387.7" y1="391" x2="387.7" y2="487" stroke="#555" stroke-width="1.1" stroke-dasharray="2.6,2.6"/>
<line x1="366.2" y1="425.5" x2="366.2" y2="475.5" stroke="#7cc893" stroke-width="1.1" stroke-dasharray="2.6,2.6"/>
<rect x="269.5" y="368.2" width="179" height="145.8" fill="none" stroke="#262626" stroke-width="1.2"/>
<line x1="269.6" y1="514" x2="269.6" y2="516.6" stroke="#262626" stroke-width="1" />
<line x1="295.1" y1="514" x2="295.1" y2="516.6" stroke="#262626" stroke-width="1" />
<line x1="320.6" y1="514" x2="320.6" y2="516.6" stroke="#262626" stroke-width="1" />
<line x1="346.1" y1="514" x2="346.1" y2="516.6" stroke="#262626" stroke-width="1" />
<line x1="371.6" y1="514" x2="371.6" y2="516.6" stroke="#262626" stroke-width="1" />
<line x1="397.1" y1="514" x2="397.1" y2="516.6" stroke="#262626" stroke-width="1" />
<line x1="422.6" y1="514" x2="422.6" y2="516.6" stroke="#262626" stroke-width="1" />
<line x1="448.1" y1="514" x2="448.1" y2="516.6" stroke="#262626" stroke-width="1" />
<line x1="282.35" y1="514" x2="282.35" y2="515.6" stroke="#262626" stroke-width="1" />
<line x1="307.85" y1="514" x2="307.85" y2="515.6" stroke="#262626" stroke-width="1" />
<line x1="333.35" y1="514" x2="333.35" y2="515.6" stroke="#262626" stroke-width="1" />
<line x1="358.85" y1="514" x2="358.85" y2="515.6" stroke="#262626" stroke-width="1" />
<line x1="384.35" y1="514" x2="384.35" y2="515.6" stroke="#262626" stroke-width="1" />
<line x1="409.85" y1="514" x2="409.85" y2="515.6" stroke="#262626" stroke-width="1" />
<line x1="435.35" y1="514" x2="435.35" y2="515.6" stroke="#262626" stroke-width="1" />
<text x="264.59" y="526.2" font-size="9.06" fill="#1e1e1e" stroke="#1e1e1e" stroke-width="0.12" ><tspan>82</tspan></text>
<text x="290.1" y="526.2" font-size="8.93" fill="#1e1e1e" stroke="#1e1e1e" stroke-width="0.12" ><tspan>80</tspan></text>
<text x="315.55" y="526.2" font-size="9.02" fill="#1e1e1e" stroke="#1e1e1e" stroke-width="0.12" ><tspan>78</tspan></text>
<text x="341.05" y="526.2" font-size="9.02" fill="#1e1e1e" stroke="#1e1e1e" stroke-width="0.12" ><tspan>76</tspan></text>
<text x="366.55" y="526.2" font-size="8.93" fill="#1e1e1e" stroke="#1e1e1e" stroke-width="0.12" ><tspan>74</tspan></text>
<text x="392.04" y="526.2" font-size="9.11" fill="#1e1e1e" stroke="#1e1e1e" stroke-width="0.12" ><tspan>72</tspan></text>
<text x="417.55" y="526.2" font-size="8.98" fill="#1e1e1e" stroke="#1e1e1e" stroke-width="0.12" ><tspan>70</tspan></text>
<text x="443.05" y="526.2" font-size="9.02" fill="#1e1e1e" stroke="#1e1e1e" stroke-width="0.12" ><tspan>68</tspan></text>
<text x="319.17" y="540.1" font-size="9.11" fill="#1e1e1e" stroke="#1e1e1e" stroke-width="0.12" ><tspan>Binding energy (eV)</tspan></text>
<text x="0" y="0" font-size="9.23" fill="#1e1e1e" stroke="#1e1e1e" stroke-width="0.12" transform="translate(263 469.6) rotate(-90)"><tspan x="-0.83"><tspan>Intensity (a.u.)</tspan></tspan></text>
<text x="235.87" y="382" font-size="17.09" fill="#111" stroke="#111" stroke-width="0.12" ><tspan>(h)</tspan></text>
<line x1="279.3" y1="378" x2="296.8" y2="378" stroke="#383838" stroke-width="1.1" />
<line x1="279.3" y1="391.5" x2="296.8" y2="391.5" stroke="#eb3a3a" stroke-width="1.1" />
<line x1="279.3" y1="405.2" x2="296.8" y2="405.2" stroke="#2f6de0" stroke-width="1.1" />
<line x1="279.3" y1="416.9" x2="296.8" y2="416.9" stroke="#4fae6d" stroke-width="1.1" />
<text x="299.05" y="381.1" font-size="8.12" fill="#1e1e1e" stroke="#1e1e1e" stroke-width="0.12" ><tspan>Pt/CeO</tspan><tspan font-size="5.28" dy="2.03">2</tspan></text>
<text x="299.29" y="394.3" font-size="8.12" fill="#1e1e1e" stroke="#1e1e1e" stroke-width="0.12" ><tspan>CO + O</tspan><tspan font-size="5.28" dy="2.03">2</tspan><tspan dy="-2.03">, 30 °C</tspan></text>
<text x="299.49" y="407.4" font-size="8.12" fill="#1e1e1e" stroke="#1e1e1e" stroke-width="0.12" ><tspan>120 °C</tspan></text>
<text x="299.49" y="419.4" font-size="8.12" fill="#1e1e1e" stroke="#1e1e1e" stroke-width="0.12" ><tspan>180 °C</tspan></text>
<text x="383.84" y="388" font-size="9.46" fill="#1e1e1e" stroke="#1e1e1e" stroke-width="0.12" ><tspan>Pt</tspan><tspan font-size="6.15" dy="-3.59">2+</tspan></text>
<text x="354.24" y="489.2" font-size="9.44" fill="#5cb87a" stroke="#5cb87a" stroke-width="0.12" ><tspan>PtO</tspan><tspan font-size="6.14" dy="2.36">x</tspan></text>
<text x="354.64" y="501.2" font-size="9.05" fill="#5cb87a" stroke="#5cb87a" stroke-width="0.12" ><tspan>clusters</tspan></text>
<path d="M500.7,492.51 L501.25,493.14 L501.88,493.16 L502.58,493.54 L503.37,492.97 L504.24,493.07 L505.21,493.65 L506.26,493.66 L507.42,493.38 L508.68,493.8 L510.04,493.52 L511.51,493.87 L513.1,493.12 L513.86,493.17 L514.69,493.78 L515.56,493.17 L516.49,492.99 L517.47,493.45 L518.48,493.19 L519.53,492.61 L520.61,492.91 L521.71,492.91 L522.84,492.29 L523.97,492.66 L525.12,492.01 L526.28,492.09 L527.43,491.7 L528.58,491.69 L529.72,492.32 L530.85,491.6 L531.96,492.03 L533.04,491.33 L534.09,491.35 L535.11,491.45 L536.08,491.11 L537.02,490.37 L537.9,490.69 L538.73,490.57 L539.5,489.95 L540.2,489.69 L541.84,490.05 L543.19,489.29 L544.28,488.59 L545.18,488.45 L545.93,487.78 L546.59,487.86 L547.2,486.98 L547.83,485.9 L548.51,485.79 L549.3,484.09 L549.81,483.62 L550.31,482.64 L550.81,482.57 L551.3,481.1 L551.79,480.62 L552.28,479.27 L552.76,478.69 L553.24,477.92 L553.72,476.76 L554.2,475.67 L554.67,474.68 L555.15,473.62 L555.62,472.77 L556.09,471.29 L556.56,470.7 L557.03,469.53 L557.5,469.27 L557.99,468.41 L558.47,466.59 L558.94,465.72 L559.41,465.34 L559.86,464.26 L560.32,462.77 L560.77,462.52 L561.23,461.84 L561.69,460.41 L562.17,459.44 L562.65,458.8 L563.14,458.32 L563.65,456.83 L564.18,456.08 L564.73,455.21 L565.3,454.93 L566.05,453.89 L566.85,452.78 L567.7,452.01 L568.58,450.76 L569.48,450.17 L570.39,450.03 L571.3,448.87 L572.2,447.89 L573.08,447.97 L573.94,446.92 L574.75,446.47 L575.5,446.06 L576.2,446.15 L576.93,446.37 L577.58,446.78 L578.17,447.98 L578.7,448.08 L579.2,448.93 L579.69,450.27 L580.17,451.67 L580.68,452.22 L581.23,453.94 L581.83,454.84 L582.5,456.36 L582.89,457.14 L583.3,458.33 L583.73,459.06 L584.17,459.79 L584.64,461.16 L585.11,461.77 L585.6,462.9 L586.09,464.61 L586.59,465.35 L587.09,466.72 L587.59,467.4 L588.08,469.12 L588.57,469.89 L589.04,470.57 L589.51,472.23 L589.96,472.68 L590.39,473.39 L590.81,474.06 L591.2,474.55 L591.56,475.19 L591.9,476.09 L592.86,476.2 L593.57,476.02 L594.13,475.23 L594.65,473.95 L595.24,472.26 L596,471.29 L596.49,470.08 L597.01,469.51 L597.55,468.85 L598.11,467.8 L598.69,467.1 L599.29,466.18 L599.9,465.85 L600.53,464.29 L601.18,463.76 L601.83,462.17 L602.5,461.35 L602.88,460.61 L603.27,459.5 L603.67,459.21 L604.08,458.02 L604.5,456.96 L604.92,455.46 L605.36,454.81 L605.79,453.63 L606.23,452.78 L606.67,452.19 L607.11,451.07 L607.54,449.22 L607.98,448.81 L608.41,448.06 L608.83,446.69 L609.25,445.31 L609.65,445.19 L610.05,443.92 L610.43,443.69 L610.8,442.87 L611.51,441.53 L612.21,440.44 L612.88,438.49 L613.53,438.23 L614.16,436.86 L614.76,435.91 L615.35,435.48 L615.92,435.12 L616.47,434.07 L617,434.15 L618.14,433.92 L619.1,433.63 L620.06,434.45 L621.2,436 L621.51,437.26 L621.84,437.2 L622.17,438.37 L622.52,439.13 L622.87,439.35 L623.24,441.26 L623.61,441.46 L623.98,443.22 L624.36,444.21 L624.74,445.26 L625.12,446.32 L625.51,446.99 L625.89,448.19 L626.27,449.25 L626.65,451 L627.03,451.26 L627.4,452.54 L627.67,454.23 L627.94,455 L628.22,455.85 L628.49,457.09 L628.76,457.64 L629.04,458.98 L629.31,459.63 L629.59,461.14 L629.86,461.38 L630.14,462.82 L630.41,464.03 L630.69,465.32 L630.96,466.02 L631.24,467.34 L631.51,468.68 L631.79,469.16 L632.06,469.95 L632.34,470.77 L632.61,472.57 L632.88,473.11 L633.16,473.92 L633.43,474.91 L633.7,475.32 L634.13,476.7 L634.54,477.95 L634.92,479.17 L635.3,480.92 L635.66,481.41 L636.03,482.31 L636.41,484.1 L636.81,484.75 L637.22,485.12 L637.67,486.62 L638.16,487.43 L638.68,488.14 L639.26,488.95 L639.9,489.22 L640.71,489.66 L641.57,490.69 L642.49,490.99 L643.45,491.39 L644.45,491.13 L645.5,491.51 L646.58,491.98 L647.7,491.8 L648.84,492.12 L650.01,492.1 L651.19,492.5 L652.4,492.25 L653.34,492.52 L654.32,492.96 L655.34,492.53 L656.39,492.48 L657.47,493.02 L658.57,492.58 L659.68,493.36 L660.79,492.83 L661.9,493.51 L663,493.18 L664.09,492.84 L665.15,493.25 L666.18,493.45 L667.16,493.29 L668.11,493.49 L669,493.27 L670.25,493.93 L671.49,493.22 L672.7,493.91 L673.88,493.2 L675,493.74 L676.06,493.36 L677.05,493.47 L677.94,493.98 L678.75,494.34 L679.43,493.78 L680,493.9" fill="none" stroke="#4fae6d" stroke-width="1.1" stroke-linejoin="round" />
<path d="M500.3,487.66 L500.86,488.09 L501.51,488.1 L502.25,488.28 L503.07,487.63 L503.96,487.7 L504.91,487.64 L505.93,487.74 L506.99,488.27 L508.1,487.68 L509.24,488.1 L510.41,487.78 L511.6,487.86 L512.8,487.99 L514.01,488.38 L515.22,488.11 L516.42,487.47 L517.6,487.68 L518.53,487.49 L519.5,488.16 L520.51,488.05 L521.55,487.98 L522.62,487.94 L523.72,487.79 L524.83,487.93 L525.95,487.7 L527.08,487.08 L528.21,487.59 L529.34,487.13 L530.47,487.3 L531.58,487 L532.67,486.76 L533.74,486.57 L534.79,486.51 L535.8,486.25 L536.77,485.91 L537.71,486.46 L538.59,486.27 L539.42,486.28 L540.2,485.79 L541.62,485.25 L542.89,485 L544.05,483.92 L545.09,483.95 L546.03,483.18 L546.89,482.34 L547.68,481.76 L548.41,481.44 L549.1,480.5 L549.76,480 L550.4,479.41 L550.98,478.42 L551.46,477.34 L551.85,476.85 L552.18,475.71 L552.46,474.79 L552.72,473.8 L552.97,472.99 L553.23,471.69 L553.53,471.22 L553.88,470.45 L554.3,468.79 L554.65,468.28 L555.02,467.63 L555.41,465.83 L555.81,465.01 L556.22,464.72 L556.65,463.79 L557.08,462.61 L557.52,461.15 L557.96,460.42 L558.41,459.89 L558.86,458.93 L559.3,457.88 L559.74,456.33 L560.18,456.05 L560.6,454.67 L561.08,454 L561.57,452.43 L562.06,452.28 L562.54,450.94 L563.03,450.1 L563.51,448.64 L564,448.1 L564.48,447.12 L564.97,446.19 L565.45,445.02 L565.94,444.44 L566.42,443.1 L566.9,442.1 L567.35,441.04 L567.8,440.57 L568.26,438.98 L568.72,438.04 L569.18,436.83 L569.64,436.35 L570.1,435.22 L570.55,434.21 L571,432.75 L571.44,432.27 L571.87,431.36 L572.29,430.39 L572.7,429.69 L573.1,430.2 L574.38,428.4 L575.54,428.58 L576.66,429.21 L577.8,430.6 L578.31,430.59 L578.78,431.51 L579.25,432 L579.72,433.15 L580.2,433.13 L580.7,434.46 L581.25,435.84 L581.84,437.79 L582.5,439.12 L582.74,439.76 L582.99,440.73 L583.25,441.2 L583.52,441.85 L583.8,443.28 L584.08,444.71 L584.38,445.61 L584.68,446.23 L584.99,447.79 L585.3,449.12 L585.61,449.7 L585.92,451.22 L586.24,452.18 L586.56,453.26 L586.88,454.48 L587.19,455.55 L587.5,456.84 L587.81,457.63 L588.12,459.06 L588.42,459.77 L588.72,461.41 L589,462.17 L589.28,462.42 L589.55,463.96 L589.81,464.07 L590.06,464.97 L590.3,465.55 L591.58,467.39 L592.54,467.52 L593.55,466.4 L595,463.84 L595.35,464.02 L595.74,462.65 L596.14,462.67 L596.57,461.31 L597.02,460.58 L597.48,459.8 L597.96,458.52 L598.44,457.66 L598.94,456.9 L599.44,455.95 L599.95,455.34 L600.45,454.38 L600.96,452.36 L601.46,451.77 L601.95,450.28 L602.43,449.88 L602.9,448.33 L603.35,447.86 L603.79,446.49 L604.21,445.08 L604.6,444 L604.99,443.26 L605.36,442.89 L605.72,441.16 L606.07,440.48 L606.4,439.36 L606.72,438.31 L607.03,437.75 L607.33,436.14 L607.63,435.63 L607.92,434.57 L608.22,433.83 L608.51,432.42 L608.8,431.84 L609.09,430.39 L609.39,429.56 L609.69,428.67 L610.01,427.97 L610.33,427.13 L610.66,425.47 L611,424.64 L611.45,423.97 L611.93,423.15 L612.43,421.75 L612.94,420.4 L613.46,419.95 L613.99,418.18 L614.52,416.9 L615.05,415.84 L615.57,414.84 L616.08,414.62 L616.57,413.17 L617.04,413.02 L617.48,412.52 L617.89,412.11 L618.27,411.5 L618.6,410.82 L619.22,410.88 L619.67,411.57 L620,412.42 L620.25,413.29 L620.47,415.26 L620.71,416.15 L621,417.81 L621.19,419.3 L621.37,419.59 L621.54,420.22 L621.71,421.6 L621.87,422.16 L622.04,422.65 L622.22,423.66 L622.4,424.93 L622.6,426.1 L622.81,427.87 L623.05,428.42 L623.3,430.35 L623.45,431.15 L623.61,431.55 L623.77,432.98 L623.94,433.64 L624.1,434.28 L624.28,435 L624.45,436.16 L624.63,437.59 L624.82,438.23 L625,438.9 L625.2,440.11 L625.39,441.25 L625.6,442.02 L625.8,443.46 L626.02,443.98 L626.23,445.83 L626.46,446.26 L626.68,447.24 L626.92,448.79 L627.16,449.56 L627.4,451.19 L627.63,451.76 L627.86,452.77 L628.1,454.09 L628.34,454.49 L628.59,456.06 L628.84,457.01 L629.09,457.85 L629.35,459.44 L629.61,459.57 L629.88,461.48 L630.15,461.82 L630.43,463.57 L630.7,463.94 L630.99,464.88 L631.27,466.35 L631.56,467.78 L631.86,468.1 L632.16,469.3 L632.46,470.36 L632.76,470.9 L633.07,472.07 L633.38,472.4 L633.7,473.65 L634.19,475.15 L634.69,475.88 L635.2,476.87 L635.72,477.77 L636.24,479.45 L636.78,480.16 L637.32,481.58 L637.87,482.31 L638.43,482.53 L639,484.16 L639.58,484.95 L640.17,485.57 L640.77,486.27 L641.38,486.77 L642,487.42 L642.8,488.1 L643.53,488.65 L644.22,488.83 L644.9,489.14 L645.62,490.09 L646.39,490.27 L647.26,489.98 L648.27,490.79 L649.43,490.97 L650.8,491.09 L652.4,491.58 L653.15,491.77 L653.97,491.36 L654.86,491.87 L655.82,491.63 L656.84,491.78 L657.91,491.68 L659.02,492.26 L660.17,491.82 L661.35,492.38 L662.55,491.81 L663.77,492.19 L665,492.47 L666.23,492.27 L667.46,492 L668.68,491.73 L669.88,492.16 L671.06,492.12 L672.21,492.54 L673.32,492.53 L674.38,492.75 L675.39,492.23 L676.35,492.22 L677.23,492.39 L678.05,492.59 L678.79,491.94 L679.44,492.1 L680,492.05" fill="none" stroke="#2f6de0" stroke-width="1.1" stroke-linejoin="round" />
<path d="M500.3,483.67 L500.84,483.87 L501.44,483.9 L502.11,483.4 L502.84,483.29 L503.62,483.69 L504.45,483.63 L505.34,484.2 L506.27,484.13 L507.24,484.09 L508.25,484.09 L509.3,484.24 L510.38,483.78 L511.49,484.13 L512.63,483.91 L513.79,484.7 L514.97,483.91 L516.17,484.73 L517.39,484.04 L518.61,484.7 L519.84,484.4 L521.08,484.52 L522.32,485 L523.55,484.22 L524.78,484.3 L526.01,485.19 L527.22,484.81 L528.41,484.42 L529.59,485.34 L530.75,485.32 L531.88,484.49 L532.98,484.81 L534.06,484.52 L535.1,484.69 L536.1,484.98 L537.06,484.5 L537.98,485 L538.85,484.31 L539.67,484.38 L540.44,484.97 L541.15,484.48 L541.8,484.42 L543.72,484.26 L545.26,483.71 L546.48,483.11 L547.43,482.19 L548.15,482.25 L548.7,481.8 L549.13,481.09 L549.49,480.02 L549.82,478.93 L550.18,478.15 L550.63,477.68 L551.2,476.87 L551.83,475.53 L552.41,474.88 L552.96,474.22 L553.47,473.57 L553.97,473.05 L554.45,471.89 L554.93,470.53 L555.4,470.39 L555.89,469 L556.4,468.04 L556.93,466.62 L557.5,465.63 L557.86,464.83 L558.23,464.43 L558.6,462.95 L558.99,462.56 L559.38,461.33 L559.78,460.97 L560.18,459.42 L560.58,458.74 L560.99,457.87 L561.4,457.21 L561.81,455.66 L562.22,455.08 L562.62,453.84 L563.02,452.91 L563.42,452.08 L563.81,451.54 L564.2,450.02 L564.57,449.46 L564.94,447.62 L565.3,447.32 L565.59,445.86 L565.88,444.75 L566.17,444.34 L566.46,443.51 L566.74,441.58 L567.02,440.79 L567.3,440.24 L567.57,438.73 L567.85,437.55 L568.12,436.24 L568.39,435.18 L568.65,434.68 L568.91,433.98 L569.17,432.93 L569.43,431.4 L569.68,429.9 L569.93,429.2 L570.18,428.7 L570.42,427.82 L570.67,426.74 L570.9,425.48 L571.14,424.97 L571.37,424.17 L571.6,423.63 L572.19,421.61 L572.76,420.86 L573.31,419.59 L573.84,417.81 L574.34,417.06 L574.83,416.9 L575.3,415.68 L575.76,415.81 L576.2,414.92 L577.31,414.14 L578.27,414.23 L579.4,415.31 L579.69,415.96 L579.98,416.58 L580.28,417.75 L580.59,418.57 L580.91,418.89 L581.23,420.6 L581.56,421.15 L581.9,422.04 L582.25,423.36 L582.6,425.08 L582.97,425.88 L583.34,427.2 L583.71,428.79 L584.1,430.16 L584.33,430.77 L584.57,431.29 L584.81,432.36 L585.06,433.62 L585.32,434.49 L585.58,435.29 L585.84,436.1 L586.11,437.18 L586.38,438.62 L586.65,439.53 L586.93,440.08 L587.2,441.87 L587.47,443.15 L587.75,444.13 L588.02,445.3 L588.29,446.37 L588.56,447.03 L588.82,448.29 L589.08,448.85 L589.34,449.51 L589.59,450.66 L589.83,451.47 L590.07,452.89 L590.3,453.39 L590.78,454.75 L591.24,456.23 L591.68,457.03 L592.11,458.64 L592.52,459.89 L592.93,460.57 L593.33,461.3 L593.74,462.23 L594.15,462.81 L594.57,463.73 L595,463.64 L595.95,464.26 L596.89,464.68 L597.85,464.73 L598.87,463.86 L600,462.16 L600.34,461.86 L600.69,460.65 L601.05,459.61 L601.42,459.31 L601.8,458.46 L602.19,457.33 L602.58,456.9 L602.98,455.62 L603.38,454.52 L603.78,453.57 L604.19,453.12 L604.59,451.08 L604.99,450.31 L605.38,449.07 L605.77,447.82 L606.16,446.86 L606.53,445.44 L606.9,444.92 L607.14,443.67 L607.38,443.01 L607.61,441.6 L607.84,441 L608.07,440.21 L608.3,439.5 L608.52,437.95 L608.75,437.18 L608.97,436.58 L609.19,435.55 L609.41,433.93 L609.63,433.22 L609.85,432.41 L610.07,431.01 L610.29,430.25 L610.51,429.19 L610.73,428.46 L610.95,427.01 L611.17,426.1 L611.4,424.74 L611.62,424.1 L611.84,422.68 L612.07,421.85 L612.3,420.73 L612.53,419.7 L612.76,418.57 L613,417.73 L613.27,416.98 L613.55,415.57 L613.84,414.22 L614.13,413.81 L614.42,412.09 L614.72,411.53 L615.03,409.97 L615.33,408.54 L615.64,407.81 L615.95,406.63 L616.25,404.86 L616.56,403.51 L616.86,402.89 L617.15,402 L617.45,400.73 L617.73,399.91 L618.01,398.61 L618.29,397.95 L618.55,396.8 L618.8,396.23 L619.05,395.57 L619.28,395.04 L619.49,394.63 L619.7,394.71 L620.14,393.68 L620.51,393.81 L620.83,394.37 L621.1,395.96 L621.34,396.69 L621.57,397.63 L621.78,400.02 L622,401.78 L622.24,403.52 L622.5,404.86 L622.61,405.97 L622.72,406.33 L622.83,406.99 L622.93,408.6 L623.04,409.48 L623.14,409.81 L623.24,411.45 L623.35,411.61 L623.45,412.92 L623.55,413.68 L623.66,414.91 L623.76,415.98 L623.87,417.63 L623.97,418.31 L624.08,419.3 L624.19,420.4 L624.3,421.62 L624.41,423.26 L624.53,424.08 L624.65,424.64 L624.77,426.27 L624.9,427.14 L625.03,428.05 L625.16,429.09 L625.3,430.15 L625.47,431.38 L625.64,432.15 L625.81,433.33 L625.98,434.19 L626.16,435.38 L626.34,436.14 L626.52,437.16 L626.71,438.25 L626.9,439.42 L627.09,439.96 L627.29,441.57 L627.49,442.1 L627.69,443.42 L627.9,444.21 L628.11,445.44 L628.33,446.12 L628.55,446.83 L628.78,447.77 L629.02,448.94 L629.26,450.07 L629.5,451.14 L629.75,451.43 L630,452.38 L630.26,453.45 L630.52,454.47 L630.79,455.49 L631.06,456.5 L631.34,457.79 L631.62,458.71 L631.9,460.34 L632.19,461.32 L632.49,462.71 L632.78,463.73 L633.09,464.54 L633.4,465.74 L633.71,465.8 L634.03,466.96 L634.35,468.59 L634.68,469.04 L635.02,469.65 L635.36,471.05 L635.7,471.52 L636.23,472.81 L636.79,473.71 L637.36,474.73 L637.94,475.63 L638.54,477.16 L639.15,478.47 L639.77,479.43 L640.39,480.08 L641.02,481.08 L641.64,481.29 L642.27,481.95 L642.89,483.25 L643.5,483.54 L644.1,484.17 L645.01,484.31 L645.73,485.09 L646.37,485.72 L647.05,486.21 L647.88,486.46 L648.97,486.49 L650.44,486.18 L652.4,486.38 L653.11,486.92 L653.9,487.1 L654.77,486.65 L655.71,486.4 L656.71,486.87 L657.77,486.83 L658.87,486.69 L660.01,486.59 L661.19,486.78 L662.4,487.03 L663.62,486.58 L664.86,487.01 L666.1,487.45 L667.34,487.26 L668.57,486.79 L669.78,486.97 L670.97,486.67 L672.13,487.32 L673.25,487.23 L674.33,486.79 L675.35,487.17 L676.32,487.23 L677.21,487.23 L678.04,487.04 L678.78,486.98 L679.44,487.04 L680,487.7" fill="none" stroke="#eb3a3a" stroke-width="1.1" stroke-linejoin="round" />
<path d="M500.3,479.75 L500.84,479.87 L501.45,480.25 L502.12,479.81 L502.85,479.87 L503.64,479.97 L504.48,479.59 L505.37,479.95 L506.31,480.1 L507.3,480.29 L508.32,479.62 L509.38,479.86 L510.47,479.68 L511.6,480.44 L512.75,480.36 L513.92,479.74 L515.12,480.72 L516.33,480.74 L517.56,480.46 L518.79,480.46 L520.03,480.03 L521.28,479.93 L522.53,480.47 L523.77,480.03 L525,480.2 L526.23,480.28 L527.45,480.09 L528.64,480.55 L529.82,480.55 L530.97,480.97 L532.1,480.66 L533.2,480.8 L534.26,480.67 L535.29,480.84 L536.28,480.64 L537.22,480.46 L538.12,481.18 L538.97,481.17 L539.77,481 L540.51,480.85 L541.18,480.44 L541.8,480.33 L544.55,480.17 L546.17,479.64 L546.97,479.94 L547.25,479.1 L547.33,479.02 L547.51,477.99 L548.1,477.96 L548.88,477.32 L549.65,475.96 L550.43,475.63 L551.2,475.75 L551.97,474.65 L552.75,474.4 L553.52,472.94 L554.3,471.57 L554.78,471.41 L555.26,470.79 L555.75,469.46 L556.23,468.41 L556.72,467.75 L557.2,467.43 L557.69,466.24 L558.17,464.59 L558.66,463.67 L559.14,462.45 L559.63,461.31 L560.12,460.93 L560.6,459.18 L560.95,458.73 L561.3,457.77 L561.65,456.65 L562,456.32 L562.35,454.83 L562.7,454.44 L563.05,452.99 L563.41,452.36 L563.76,451.21 L564.11,450.3 L564.46,450.03 L564.81,448.87 L565.16,447.36 L565.51,446.92 L565.86,445.21 L566.2,444.34 L566.55,443.74 L566.9,442.44 L567.19,440.99 L567.48,440.92 L567.78,439.15 L568.08,438.17 L568.38,437.63 L568.68,436.12 L568.99,435 L569.29,433.67 L569.6,432.58 L569.9,431.96 L570.2,430.52 L570.5,429.78 L570.79,428.47 L571.08,427.48 L571.36,426.95 L571.64,425.46 L571.9,424.57 L572.16,423.93 L572.41,422.35 L572.65,421.48 L572.88,421.44 L573.1,420.62 L573.57,418.41 L573.97,416.87 L574.3,416.09 L574.6,415.13 L574.88,413.39 L575.16,413.32 L575.46,412.61 L575.8,411.87 L576.2,411.42 L576.79,411.08 L577.43,411.37 L578.1,412.95 L578.8,413.15 L579.51,414.74 L580.21,415.58 L580.9,417.52 L581.23,418.02 L581.56,418.47 L581.88,419.14 L582.2,420.52 L582.51,420.74 L582.83,421.81 L583.15,423.1 L583.47,424.41 L583.8,425.23 L584.14,426.01 L584.49,427.82 L584.84,428.34 L585.22,429.45 L585.6,431.07 L585.82,432.06 L586.06,432.54 L586.29,433.58 L586.54,434.74 L586.79,435.95 L587.04,436.55 L587.3,437.85 L587.57,439.48 L587.83,440.68 L588.1,441.49 L588.37,442.66 L588.64,443.7 L588.91,444.39 L589.18,445.42 L589.45,446.52 L589.71,448.51 L589.98,449.38 L590.24,450.69 L590.49,450.76 L590.74,452.35 L590.99,453.12 L591.23,454.25 L591.46,454.66 L591.68,456.1 L591.9,455.88 L592.46,458.05 L592.98,459.69 L593.46,461.08 L593.92,461.93 L594.36,462.72 L594.8,463.47 L595.25,464.09 L595.71,463.9 L596.2,464.49 L596.97,464.83 L597.75,464.56 L598.55,463.54 L599.36,463.01 L600.18,461.87 L601,460.07 L601.31,459.48 L601.62,458.54 L601.93,458 L602.24,457.23 L602.54,455.87 L602.86,455.54 L603.17,454.97 L603.48,453.89 L603.8,452.74 L604.12,451.35 L604.44,450.62 L604.76,449.35 L605.09,448.06 L605.42,447.28 L605.76,445.32 L606.1,444.75 L606.32,443.21 L606.55,442.93 L606.78,441.93 L607.02,440.77 L607.26,440.3 L607.5,439.14 L607.75,438.28 L607.99,437.59 L608.24,435.91 L608.49,434.64 L608.74,433.9 L608.99,433.23 L609.24,431.71 L609.49,430.63 L609.74,430.31 L609.98,429.02 L610.22,427.76 L610.46,427.18 L610.7,425.59 L610.93,424.92 L611.15,423.46 L611.38,422.72 L611.59,422.14 L611.8,421.32 L612,420.38 L612.24,418.77 L612.48,417.86 L612.71,416.48 L612.93,415.19 L613.14,414.45 L613.35,413.7 L613.55,412.63 L613.75,411.42 L613.95,410.6 L614.14,408.89 L614.33,407.76 L614.51,407.04 L614.7,405.88 L614.88,404.86 L615.07,404.13 L615.25,403.43 L615.43,402.43 L615.62,401.4 L615.81,401.11 L616,400.48 L616.38,398.45 L616.77,396.6 L617.14,395.14 L617.52,394.66 L617.89,392.62 L618.26,392.22 L618.63,391.19 L618.99,390.22 L619.35,390.22 L619.7,389.22 L620.12,389.32 L620.53,389.87 L620.92,389.93 L621.31,391.54 L621.7,392.07 L622.11,393.46 L622.54,395.25 L623,398.13 L623.12,398.61 L623.25,399.51 L623.37,400.3 L623.5,401.28 L623.63,402.3 L623.76,402.94 L623.89,403.41 L624.03,404.67 L624.16,405.39 L624.3,406.28 L624.44,407.82 L624.58,409.16 L624.72,409.74 L624.86,410.96 L625,412.18 L625.14,413.68 L625.29,414.66 L625.43,415.9 L625.57,417.2 L625.72,417.98 L625.86,419.51 L626,420.75 L626.15,421.03 L626.29,422.96 L626.43,423.81 L626.57,424.24 L626.71,425.57 L626.85,426.7 L626.99,427.91 L627.13,428.26 L627.26,429.28 L627.4,430.38 L627.65,431.67 L627.89,433.08 L628.13,433.76 L628.36,435.03 L628.59,435.59 L628.82,437.05 L629.04,438.04 L629.27,438.72 L629.5,439.63 L629.74,439.95 L629.98,441.45 L630.22,442.36 L630.48,443.21 L630.74,443.65 L631.02,444.84 L631.3,445.36 L631.6,447.01 L631.85,447.87 L632.1,448.3 L632.36,449.02 L632.63,450.38 L632.89,451.51 L633.16,452.78 L633.44,453.55 L633.72,454.16 L634.01,456.02 L634.3,456.35 L634.59,458.15 L634.89,458.59 L635.19,459.8 L635.5,461.29 L635.82,461.65 L636.14,462.65 L636.46,463.97 L636.79,465.1 L637.12,466.1 L637.46,466.8 L637.8,467.85 L638.32,468.52 L638.86,470.05 L639.4,470.22 L639.96,471.33 L640.52,472.56 L641.1,473.21 L641.69,474.49 L642.29,475.19 L642.89,475.82 L643.51,476.84 L644.14,477.22 L644.79,477.59 L645.44,478.24 L646.1,479.25 L647,479.96 L647.84,479.82 L648.65,480.9 L649.48,481.36 L650.35,481.19 L651.3,481.46 L652.35,481.26 L653.55,481.75 L654.92,481.86 L656.5,482.11 L657.28,481.59 L658.15,482.58 L659.09,482.17 L660.1,482.08 L661.17,482.51 L662.29,482.28 L663.44,482.22 L664.63,482.42 L665.84,481.79 L667.06,482.25 L668.29,482.12 L669.51,482.64 L670.71,482.59 L671.9,481.91 L673.05,482.1 L674.16,481.73 L675.21,482.01 L676.21,482.37 L677.14,482.44 L678,482 L678.76,481.83 L679.43,481.69 L680,482.12" fill="none" stroke="#454545" stroke-width="1.1" stroke-linejoin="round" />
<line x1="619.5" y1="387.4" x2="619.5" y2="489.3" stroke="#555" stroke-width="1.1" stroke-dasharray="2.6,2.6"/>
<rect x="500.3" y="367.9" width="180" height="147.1" fill="none" stroke="#262626" stroke-width="1.2"/>
<line x1="500.6" y1="515" x2="500.6" y2="517.6" stroke="#262626" stroke-width="1" />
<line x1="526.22" y1="515" x2="526.22" y2="517.6" stroke="#262626" stroke-width="1" />
<line x1="551.84" y1="515" x2="551.84" y2="517.6" stroke="#262626" stroke-width="1" />
<line x1="577.46" y1="515" x2="577.46" y2="517.6" stroke="#262626" stroke-width="1" />
<line x1="603.08" y1="515" x2="603.08" y2="517.6" stroke="#262626" stroke-width="1" />
<line x1="628.7" y1="515" x2="628.7" y2="517.6" stroke="#262626" stroke-width="1" />
<line x1="654.32" y1="515" x2="654.32" y2="517.6" stroke="#262626" stroke-width="1" />
<line x1="679.94" y1="515" x2="679.94" y2="517.6" stroke="#262626" stroke-width="1" />
<line x1="513.41" y1="515" x2="513.41" y2="516.6" stroke="#262626" stroke-width="1" />
<line x1="539.03" y1="515" x2="539.03" y2="516.6" stroke="#262626" stroke-width="1" />
<line x1="564.65" y1="515" x2="564.65" y2="516.6" stroke="#262626" stroke-width="1" />
<line x1="590.27" y1="515" x2="590.27" y2="516.6" stroke="#262626" stroke-width="1" />
<line x1="615.89" y1="515" x2="615.89" y2="516.6" stroke="#262626" stroke-width="1" />
<line x1="641.51" y1="515" x2="641.51" y2="516.6" stroke="#262626" stroke-width="1" />
<line x1="667.13" y1="515" x2="667.13" y2="516.6" stroke="#262626" stroke-width="1" />
<text x="495.59" y="526.6" font-size="9.06" fill="#1e1e1e" stroke="#1e1e1e" stroke-width="0.12" ><tspan>82</tspan></text>
<text x="521.22" y="526.6" font-size="8.93" fill="#1e1e1e" stroke="#1e1e1e" stroke-width="0.12" ><tspan>80</tspan></text>
<text x="546.79" y="526.6" font-size="9.02" fill="#1e1e1e" stroke="#1e1e1e" stroke-width="0.12" ><tspan>78</tspan></text>
<text x="572.41" y="526.6" font-size="9.02" fill="#1e1e1e" stroke="#1e1e1e" stroke-width="0.12" ><tspan>76</tspan></text>
<text x="598.03" y="526.6" font-size="8.93" fill="#1e1e1e" stroke="#1e1e1e" stroke-width="0.12" ><tspan>74</tspan></text>
<text x="623.64" y="526.6" font-size="9.11" fill="#1e1e1e" stroke="#1e1e1e" stroke-width="0.12" ><tspan>72</tspan></text>
<text x="649.27" y="526.6" font-size="8.98" fill="#1e1e1e" stroke="#1e1e1e" stroke-width="0.12" ><tspan>70</tspan></text>
<text x="674.89" y="526.6" font-size="9.02" fill="#1e1e1e" stroke="#1e1e1e" stroke-width="0.12" ><tspan>68</tspan></text>
<text x="550.38" y="540.1" font-size="9.02" fill="#1e1e1e" stroke="#1e1e1e" stroke-width="0.12" ><tspan>Binding energy (eV)</tspan></text>
<text x="0" y="0" font-size="9.17" fill="#1e1e1e" stroke="#1e1e1e" stroke-width="0.12" transform="translate(495 470) rotate(-90)"><tspan x="-0.83"><tspan>Intensity (a.u.)</tspan></tspan></text>
<text x="464.46" y="382" font-size="17.25" fill="#111" stroke="#111" stroke-width="0.12" ><tspan>(i)</tspan></text>
<line x1="506.3" y1="381.9" x2="524.2" y2="381.9" stroke="#8a8a8a" stroke-width="1.3" />
<line x1="506.3" y1="395.6" x2="524.2" y2="395.6" stroke="#eb3a3a" stroke-width="1.3" />
<line x1="506.3" y1="409.1" x2="524.2" y2="409.1" stroke="#2f6de0" stroke-width="1.3" />
<line x1="506.3" y1="421" x2="524.2" y2="421" stroke="#6cbf86" stroke-width="1.3" />
<text x="526.15" y="385" font-size="8.14" fill="#1e1e1e" stroke="#1e1e1e" stroke-width="0.12" ><tspan>Pt</tspan><tspan font-size="5.29" dy="2.03">AT</tspan><tspan dy="-2.03">CeO</tspan><tspan font-size="5.29" dy="2.03">2</tspan></text>
<text x="526.59" y="398.2" font-size="8.14" fill="#1e1e1e" stroke="#1e1e1e" stroke-width="0.12" ><tspan>CO + O</tspan><tspan font-size="5.29" dy="2.03">2</tspan><tspan dy="-2.03">, 30 °C</tspan></text>
<text x="526.69" y="411.4" font-size="8.14" fill="#1e1e1e" stroke="#1e1e1e" stroke-width="0.12" ><tspan>120 °C</tspan></text>
<text x="526.69" y="423.4" font-size="8.14" fill="#1e1e1e" stroke="#1e1e1e" stroke-width="0.12" ><tspan>180 °C</tspan></text>
<text x="616.85" y="381.6" font-size="9.33" fill="#1e1e1e" stroke="#1e1e1e" stroke-width="0.12" ><tspan>Pt</tspan><tspan font-size="6.07" dy="-3.55">2+</tspan></text>
</svg></body></html>
